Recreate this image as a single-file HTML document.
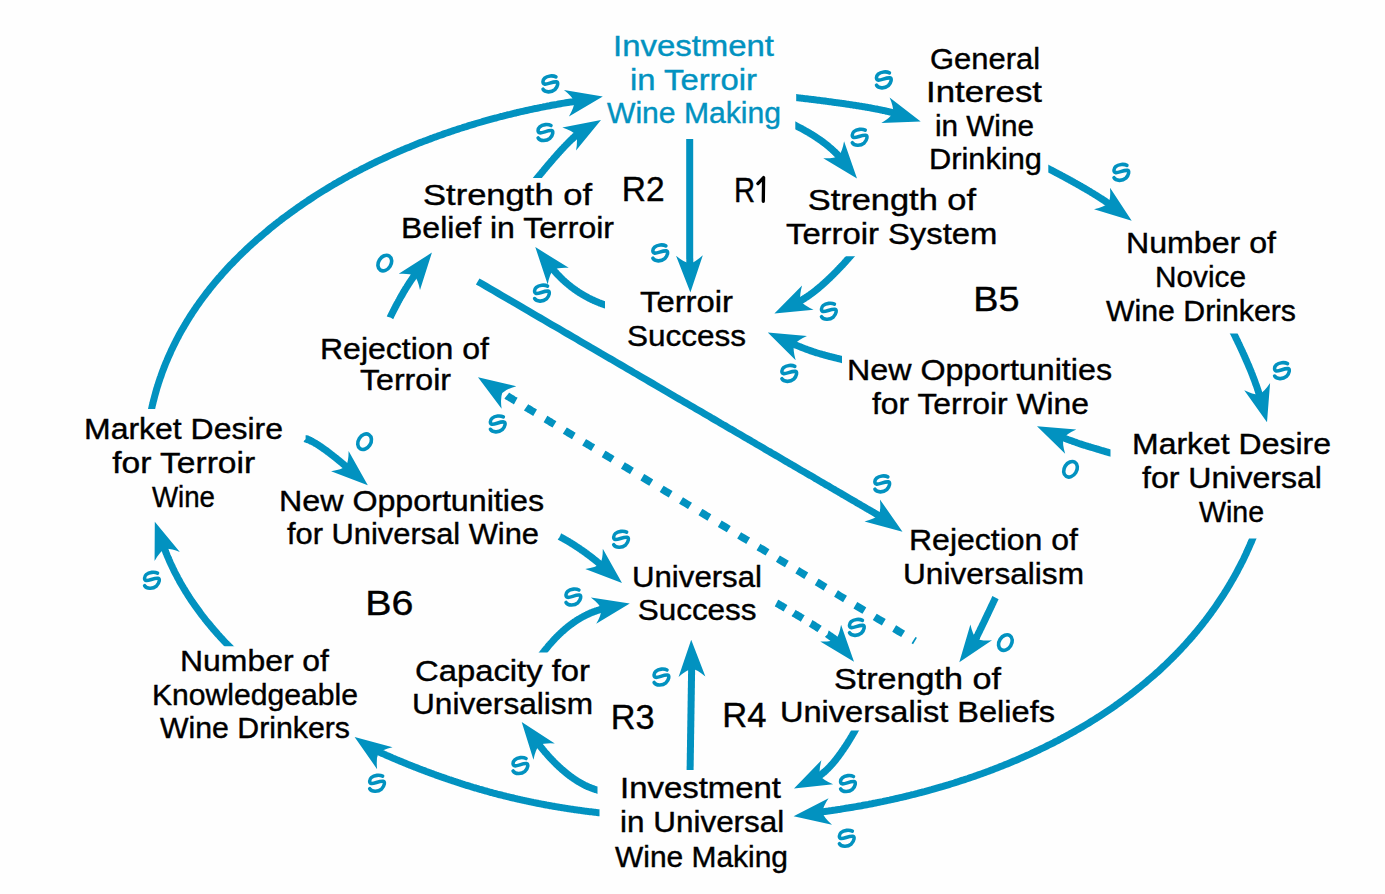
<!DOCTYPE html>
<html><head><meta charset="utf-8"><style>
html,body{margin:0;padding:0;background:#fefefe;width:1385px;height:894px;overflow:hidden}
svg{display:block}
text{font-family:"Liberation Sans",sans-serif;font-size:30px;stroke-width:0.4px}
text.big{font-size:35px}
</style></head><body>
<svg width="1385" height="894" viewBox="0 0 1385 894">
<rect width="1385" height="894" fill="#fefefe"/>
<clipPath id="c1"><rect x="0.0" y="0.0" width="1385.0" height="408.9"/></clipPath><path d="M149.7 417.2 L151.5 409.4 L151.9 407.5 L152.3 405.6 L152.8 403.7 L153.2 401.9 L153.7 400.0 L154.2 398.1 L154.7 396.2 L155.2 394.4 L155.7 392.5 L156.2 390.7 L156.7 388.8 L157.3 387.0 L157.9 385.2 L158.4 383.4 L159.0 381.6 L159.6 379.8 L160.2 378.0 L160.9 376.2 L161.5 374.4 L162.1 372.6 L162.8 370.8 L163.5 369.1 L164.1 367.3 L164.8 365.6 L165.5 363.8 L166.2 362.1 L167.0 360.3 L167.7 358.6 L168.4 356.9 L169.2 355.2 L170.0 353.5 L170.7 351.8 L171.5 350.1 L172.3 348.4 L173.1 346.7 L173.9 345.1 L174.8 343.4 L175.6 341.7 L176.4 340.1 L177.3 338.4 L178.2 336.8 L179.0 335.1 L179.9 333.5 L180.8 331.9 L181.7 330.3 L182.6 328.7 L183.6 327.1 L184.5 325.5 L185.5 323.9 L186.4 322.3 L187.4 320.7 L188.3 319.2 L189.3 317.6 L190.3 316.0 L191.3 314.5 L192.3 312.9 L193.3 311.4 L194.4 309.9 L195.4 308.3 L196.4 306.8 L197.5 305.3 L198.6 303.8 L199.6 302.3 L200.7 300.8 L201.8 299.3 L202.9 297.8 L204.0 296.3 L205.1 294.9 L206.2 293.4 L207.3 291.9 L208.5 290.5 L209.6 289.0 L210.8 287.6 L211.9 286.2 L213.1 284.7 L214.3 283.3 L215.5 281.9 L216.6 280.5 L217.8 279.1 L219.0 277.7 L220.3 276.3 L221.5 274.9 L222.7 273.5 L223.9 272.1 L225.2 270.8 L226.4 269.4 L227.7 268.0 L228.9 266.7 L230.2 265.3 L231.5 264.0 L232.8 262.7 L234.1 261.3 L235.4 260.0 L236.7 258.7 L238.0 257.4 L239.3 256.1 L240.6 254.8 L241.9 253.5 L243.3 252.2 L244.6 250.9 L246.0 249.6 L247.3 248.4 L248.7 247.1 L250.0 245.8 L251.4 244.6 L252.8 243.3 L254.2 242.1 L255.6 240.9 L256.9 239.6 L258.3 238.4 L259.8 237.2 L261.2 236.0 L262.6 234.8 L264.0 233.6 L265.4 232.4 L266.9 231.2 L268.3 230.0 L269.7 228.8 L271.2 227.6 L272.6 226.5 L274.1 225.3 L275.5 224.1 L277.0 223.0 L278.5 221.8 L280.0 220.7 L281.4 219.6 L282.9 218.4 L284.4 217.3 L285.9 216.2 L287.4 215.1 L288.9 214.0 L290.4 212.9 L291.9 211.8 L293.5 210.7 L295.0 209.6 L296.5 208.5 L298.0 207.4 L299.6 206.3 L301.1 205.3 L302.6 204.2 L304.2 203.2 L305.7 202.1 L307.3 201.1 L308.9 200.0 L310.4 199.0 L312.0 198.0 L313.6 196.9 L315.1 195.9 L316.7 194.9 L318.3 193.9 L319.9 192.9 L321.5 191.9 L323.1 190.9 L324.7 189.9 L326.3 189.0 L327.9 188.0 L329.5 187.0 L331.1 186.1 L332.7 185.1 L334.3 184.1 L336.0 183.2 L337.6 182.3 L339.2 181.3 L340.9 180.4 L342.5 179.5 L344.1 178.5 L345.8 177.6 L347.4 176.7 L349.1 175.8 L350.7 174.9 L352.4 174.0 L354.1 173.1 L355.7 172.2 L357.4 171.4 L359.1 170.5 L360.7 169.6 L362.4 168.7 L364.1 167.9 L365.8 167.0 L367.4 166.2 L369.1 165.3 L370.8 164.5 L372.5 163.7 L374.2 162.8 L375.9 162.0 L377.6 161.2 L379.3 160.4 L381.0 159.6 L382.7 158.8 L384.4 158.0 L386.2 157.2 L387.9 156.4 L389.6 155.6 L391.3 154.9 L393.0 154.1 L394.8 153.3 L396.5 152.6 L398.2 151.8 L399.9 151.1 L401.7 150.3 L403.4 149.6 L405.2 148.8 L406.9 148.1 L408.6 147.4 L410.4 146.7 L412.1 145.9 L413.9 145.2 L415.6 144.5 L417.4 143.8 L419.1 143.1 L420.9 142.4 L422.6 141.8 L424.4 141.1 L426.2 140.4 L427.9 139.7 L429.7 139.1 L431.5 138.4 L433.2 137.8 L435.0 137.1 L436.8 136.5 L438.5 135.8 L440.3 135.2 L442.1 134.6 L443.9 133.9 L445.6 133.3 L447.4 132.7 L449.2 132.1 L451.0 131.5 L452.8 130.9 L454.5 130.3 L456.3 129.7 L458.1 129.1 L459.9 128.5 L461.7 128.0 L463.5 127.4 L465.3 126.8 L467.0 126.3 L468.8 125.7 L470.6 125.2 L472.4 124.6 L474.2 124.1 L476.0 123.5 L477.8 123.0 L479.6 122.5 L481.4 122.0 L483.2 121.4 L485.0 120.9 L486.8 120.4 L488.6 119.9 L490.4 119.4 L492.2 118.9 L494.0 118.4 L495.8 118.0 L497.6 117.5 L499.4 117.0 L501.2 116.5 L503.0 116.1 L504.8 115.6 L506.6 115.2 L508.4 114.7 L510.2 114.3 L512.0 113.8 L513.8 113.4 L515.6 113.0 L517.4 112.5 L519.2 112.1 L521.0 111.7 L522.8 111.3 L524.6 110.9 L526.4 110.5 L528.2 110.1 L530.0 109.7 L531.8 109.3 L533.6 108.9 L535.4 108.5 L537.2 108.2 L539.0 107.8 L540.8 107.4 L542.5 107.1 L544.3 106.7 L546.1 106.4 L547.9 106.0 L549.7 105.7 L551.5 105.3 L553.3 105.0 L555.1 104.7 L556.9 104.4 L558.7 104.0 L560.5 103.7 L562.2 103.4 L564.0 103.1 L565.8 102.8 L567.6 102.5 L569.4 102.2 L571.2 101.9 L572.9 101.7 L574.7 101.4 L576.5 101.1 L578.3 100.8" fill="none" stroke="#0292c0" stroke-width="7.0" clip-path="url(#c1)"/><path d="M0 0 L-37.0 -13.4 Q-30.0 -5.4 -29.0 0 Q-30.0 5.4 -37.0 13.4 Z" fill="#0292c0" transform="translate(602.8 96.4) rotate(-10.70)"/>
<clipPath id="c2"><rect x="0.0" y="0.0" width="1385.0" height="178.0"/></clipPath><path d="M532.2 184.2 L537.3 178.0 L537.6 177.6 L537.9 177.2 L538.3 176.8 L538.6 176.4 L538.9 176.1 L539.2 175.7 L539.5 175.3 L539.8 174.9 L540.1 174.5 L540.4 174.2 L540.7 173.8 L541.1 173.4 L541.4 173.1 L541.7 172.7 L542.0 172.3 L542.3 171.9 L542.6 171.6 L542.9 171.2 L543.2 170.9 L543.5 170.5 L543.8 170.1 L544.1 169.8 L544.4 169.4 L544.7 169.1 L545.0 168.7 L545.2 168.4 L545.5 168.0 L545.8 167.7 L546.1 167.3 L546.4 167.0 L546.7 166.7 L547.0 166.3 L547.3 166.0 L547.6 165.6 L547.8 165.3 L548.1 165.0 L548.4 164.6 L548.7 164.3 L549.0 164.0 L549.2 163.7 L549.5 163.3 L549.8 163.0 L550.1 162.7 L550.3 162.4 L550.6 162.0 L550.9 161.7 L551.2 161.4 L551.4 161.1 L551.7 160.8 L552.0 160.5 L552.2 160.2 L552.5 159.9 L552.8 159.5 L553.0 159.2 L553.3 158.9 L553.6 158.6 L553.8 158.3 L554.1 158.0 L554.3 157.7 L554.6 157.5 L554.8 157.2 L555.1 156.9 L555.4 156.6 L555.6 156.3 L555.9 156.0 L556.1 155.7 L556.4 155.4 L556.6 155.2 L556.9 154.9 L557.1 154.6 L557.4 154.3 L557.6 154.0 L557.8 153.8 L558.1 153.5 L558.3 153.2 L558.6 153.0 L558.8 152.7 L559.0 152.4 L559.3 152.2 L559.5 151.9 L559.8 151.6 L560.0 151.4 L560.2 151.1 L560.5 150.9 L560.7 150.6 L560.9 150.4 L561.2 150.1 L561.4 149.9 L561.6 149.6 L561.8 149.4 L562.1 149.1 L562.3 148.9 L562.5 148.6 L562.7 148.4 L563.0 148.2 L563.2 147.9 L563.4 147.7 L563.6 147.5 L563.8 147.2 L564.0 147.0 L564.3 146.8 L564.5 146.6 L564.7 146.3 L564.9 146.1 L565.1 145.9 L565.3 145.7 L565.5 145.4 L565.7 145.2 L565.9 145.0 L566.2 144.8 L566.4 144.6 L566.6 144.4 L566.8 144.2 L567.0 144.0 L567.2 143.8 L567.4 143.6 L567.6 143.4 L567.8 143.2 L568.0 143.0 L568.2 142.8 L568.4 142.6 L568.5 142.4 L568.7 142.2 L568.9 142.0 L569.1 141.8 L569.3 141.6 L569.5 141.4 L569.7 141.2 L569.9 141.1 L570.1 140.9 L570.2 140.7 L570.4 140.5 L570.6 140.4 L570.8 140.2 L571.0 140.0 L571.2 139.8 L571.3 139.7 L571.5 139.5 L571.7 139.3 L571.9 139.2 L572.0 139.0 L572.2 138.8 L572.4 138.7 L572.5 138.5 L572.7 138.4 L572.9 138.2 L573.1 138.1 L573.2 137.9 L573.4 137.8 L573.6 137.6 L573.7 137.5 L573.9 137.3 L574.0 137.2 L574.2 137.0 L574.4 136.9 L574.5 136.8 L574.7 136.6 L574.8 136.5 L575.0 136.4 L575.1 136.2 L575.3 136.1 L575.4 136.0 L575.6 135.8 L575.8 135.7 L575.9 135.6 L576.0 135.5 L576.2 135.3 L576.3 135.2 L576.5 135.1 L576.6 135.0 L576.8 134.9 L576.9 134.8 L577.1 134.7 L577.2 134.5 L577.3 134.4 L577.5 134.3 L577.6 134.2 L577.7 134.1 L577.9 134.0 L578.0 133.9 L578.1 133.8 L578.3 133.7 L578.4 133.6 L578.5 133.5 L578.7 133.5 L578.8 133.4 L578.9 133.3 L579.1 133.2 L579.2 133.1 L579.3 133.0 L579.4 132.9 L579.5 132.9 L579.7 132.8 L579.8 132.7 L579.9 132.6 L580.0 132.6 L580.1 132.5 L580.2 132.4 L580.4 132.4" fill="none" stroke="#0292c0" stroke-width="7.0" clip-path="url(#c2)"/><path d="M0 0 L-37.0 -13.4 Q-30.0 -5.4 -29.0 0 Q-30.0 5.4 -37.0 13.4 Z" fill="#0292c0" transform="translate(601.0 120.1) rotate(-30.70)"/>
<clipPath id="c3"><rect x="796.2" y="0.0" width="588.8" height="894.0"/></clipPath><path d="M788.3 96.7 L796.2 97.6 L797.0 97.7 L797.8 97.8 L798.5 97.9 L799.3 98.0 L800.1 98.0 L800.8 98.1 L801.6 98.2 L802.4 98.3 L803.1 98.4 L803.9 98.5 L804.6 98.6 L805.4 98.7 L806.1 98.8 L806.9 98.8 L807.6 98.9 L808.4 99.0 L809.1 99.1 L809.8 99.2 L810.6 99.3 L811.3 99.4 L812.0 99.5 L812.7 99.6 L813.5 99.6 L814.2 99.7 L814.9 99.8 L815.6 99.9 L816.3 100.0 L817.0 100.1 L817.7 100.2 L818.4 100.3 L819.1 100.3 L819.8 100.4 L820.5 100.5 L821.2 100.6 L821.9 100.7 L822.6 100.8 L823.3 100.9 L824.0 101.0 L824.6 101.1 L825.3 101.1 L826.0 101.2 L826.6 101.3 L827.3 101.4 L828.0 101.5 L828.6 101.6 L829.3 101.7 L829.9 101.7 L830.6 101.8 L831.2 101.9 L831.9 102.0 L832.5 102.1 L833.2 102.2 L833.8 102.3 L834.5 102.4 L835.1 102.4 L835.7 102.5 L836.4 102.6 L837.0 102.7 L837.6 102.8 L838.2 102.9 L838.8 103.0 L839.4 103.0 L840.1 103.1 L840.7 103.2 L841.3 103.3 L841.9 103.4 L842.5 103.5 L843.1 103.6 L843.7 103.6 L844.3 103.7 L844.9 103.8 L845.4 103.9 L846.0 104.0 L846.6 104.1 L847.2 104.2 L847.8 104.2 L848.3 104.3 L848.9 104.4 L849.5 104.5 L850.0 104.6 L850.6 104.7 L851.2 104.7 L851.7 104.8 L852.3 104.9 L852.8 105.0 L853.4 105.1 L853.9 105.2 L854.5 105.3 L855.0 105.3 L855.5 105.4 L856.1 105.5 L856.6 105.6 L857.1 105.7 L857.7 105.8 L858.2 105.8 L858.7 105.9 L859.2 106.0 L859.8 106.1 L860.3 106.2 L860.8 106.3 L861.3 106.3 L861.8 106.4 L862.3 106.5 L862.8 106.6 L863.3 106.7 L863.8 106.8 L864.3 106.8 L864.8 106.9 L865.3 107.0 L865.7 107.1 L866.2 107.2 L866.7 107.3 L867.2 107.3 L867.6 107.4 L868.1 107.5 L868.6 107.6 L869.0 107.7 L869.5 107.8 L870.0 107.8 L870.4 107.9 L870.9 108.0 L871.3 108.1 L871.8 108.2 L872.2 108.2 L872.7 108.3 L873.1 108.4 L873.5 108.5 L874.0 108.6 L874.4 108.7 L874.8 108.7 L875.3 108.8 L875.7 108.9 L876.1 109.0 L876.5 109.1 L876.9 109.1 L877.4 109.2 L877.8 109.3 L878.2 109.4 L878.6 109.5 L879.0 109.5 L879.4 109.6 L879.8 109.7 L880.2 109.8 L880.6 109.9 L880.9 110.0 L881.3 110.0 L881.7 110.1 L882.1 110.2 L882.5 110.3 L882.8 110.4 L883.2 110.4 L883.6 110.5 L884.0 110.6 L884.3 110.7 L884.7 110.8 L885.0 110.8 L885.4 110.9 L885.7 111.0 L886.1 111.1 L886.4 111.2 L886.8 111.2 L887.1 111.3 L887.5 111.4 L887.8 111.5 L888.1 111.6 L888.5 111.6 L888.8 111.7 L889.1 111.8 L889.4 111.9 L889.8 112.0 L890.1 112.0 L890.4 112.1 L890.7 112.2 L891.0 112.3 L891.3 112.3 L891.6 112.4 L891.9 112.5 L892.2 112.6 L892.5 112.7 L892.8 112.7 L893.1 112.8 L893.4 112.9 L893.7 113.0 L894.0 113.1 L894.2 113.1 L894.5 113.2 L894.8 113.3 L895.1 113.4 L895.3 113.4 L895.6 113.5 L895.9 113.6 L896.1 113.7 L896.4 113.8 L896.6 113.8 L896.9 113.9 L897.1 114.0 L897.4 114.1 L897.6 114.1 L897.9 114.2" fill="none" stroke="#0292c0" stroke-width="7.0" clip-path="url(#c3)"/><path d="M0 0 L-37.0 -13.4 Q-30.0 -5.4 -29.0 0 Q-30.0 5.4 -37.0 13.4 Z" fill="#0292c0" transform="translate(920.7 121.6) rotate(17.90)"/>
<clipPath id="c4"><rect x="795.3" y="0.0" width="589.7" height="894.0"/></clipPath><path d="M788.1 121.8 L795.3 125.4 L795.6 125.6 L795.9 125.7 L796.2 125.9 L796.5 126.0 L796.9 126.2 L797.2 126.3 L797.5 126.5 L797.8 126.6 L798.1 126.8 L798.4 127.0 L798.7 127.1 L799.0 127.3 L799.3 127.4 L799.6 127.6 L799.9 127.8 L800.2 127.9 L800.5 128.1 L800.8 128.2 L801.1 128.4 L801.4 128.5 L801.7 128.7 L802.0 128.9 L802.3 129.0 L802.6 129.2 L802.9 129.3 L803.2 129.5 L803.5 129.7 L803.8 129.8 L804.1 130.0 L804.3 130.1 L804.6 130.3 L804.9 130.5 L805.2 130.6 L805.5 130.8 L805.8 131.0 L806.1 131.1 L806.4 131.3 L806.6 131.4 L806.9 131.6 L807.2 131.8 L807.5 131.9 L807.8 132.1 L808.0 132.2 L808.3 132.4 L808.6 132.6 L808.9 132.7 L809.2 132.9 L809.4 133.1 L809.7 133.2 L810.0 133.4 L810.3 133.6 L810.5 133.7 L810.8 133.9 L811.1 134.1 L811.3 134.2 L811.6 134.4 L811.9 134.5 L812.1 134.7 L812.4 134.9 L812.7 135.0 L812.9 135.2 L813.2 135.4 L813.5 135.5 L813.7 135.7 L814.0 135.9 L814.3 136.0 L814.5 136.2 L814.8 136.4 L815.0 136.5 L815.3 136.7 L815.6 136.9 L815.8 137.0 L816.1 137.2 L816.3 137.4 L816.6 137.6 L816.8 137.7 L817.1 137.9 L817.3 138.1 L817.6 138.2 L817.8 138.4 L818.1 138.6 L818.3 138.7 L818.6 138.9 L818.8 139.1 L819.1 139.2 L819.3 139.4 L819.6 139.6 L819.8 139.8 L820.0 139.9 L820.3 140.1 L820.5 140.3 L820.8 140.4 L821.0 140.6 L821.2 140.8 L821.5 141.0 L821.7 141.1 L822.0 141.3 L822.2 141.5 L822.4 141.6 L822.7 141.8 L822.9 142.0 L823.1 142.2 L823.4 142.3 L823.6 142.5 L823.8 142.7 L824.0 142.9 L824.3 143.0 L824.5 143.2 L824.7 143.4 L825.0 143.6 L825.2 143.7 L825.4 143.9 L825.6 144.1 L825.9 144.3 L826.1 144.4 L826.3 144.6 L826.5 144.8 L826.7 145.0 L827.0 145.1 L827.2 145.3 L827.4 145.5 L827.6 145.7 L827.8 145.8 L828.0 146.0 L828.3 146.2 L828.5 146.4 L828.7 146.5 L828.9 146.7 L829.1 146.9 L829.3 147.1 L829.5 147.3 L829.7 147.4 L829.9 147.6 L830.1 147.8 L830.3 148.0 L830.6 148.2 L830.8 148.3 L831.0 148.5 L831.2 148.7 L831.4 148.9 L831.6 149.0 L831.8 149.2 L832.0 149.4 L832.2 149.6 L832.4 149.8 L832.6 150.0 L832.8 150.1 L833.0 150.3 L833.1 150.5 L833.3 150.7 L833.5 150.9 L833.7 151.0 L833.9 151.2 L834.1 151.4 L834.3 151.6 L834.5 151.8 L834.7 152.0 L834.9 152.1 L835.0 152.3 L835.2 152.5 L835.4 152.7 L835.6 152.9 L835.8 153.0 L836.0 153.2 L836.2 153.4 L836.3 153.6 L836.5 153.8 L836.7 154.0 L836.9 154.2 L837.1 154.3 L837.2 154.5 L837.4 154.7 L837.6 154.9 L837.8 155.1 L837.9 155.3 L838.1 155.5 L838.3 155.6 L838.4 155.8 L838.6 156.0 L838.8 156.2 L839.0 156.4 L839.1 156.6 L839.3 156.8 L839.5 156.9 L839.6 157.1 L839.8 157.3 L840.0 157.5 L840.1 157.7 L840.3 157.9 L840.4 158.1 L840.6 158.3 L840.8 158.4 L840.9 158.6 L841.1 158.8 L841.2 159.0 L841.4 159.2 L841.6 159.4 L841.7 159.6 L841.9 159.8" fill="none" stroke="#0292c0" stroke-width="7.0" clip-path="url(#c4)"/><path d="M0 0 L-37.0 -13.4 Q-30.0 -5.4 -29.0 0 Q-30.0 5.4 -37.0 13.4 Z" fill="#0292c0" transform="translate(857.0 178.4) rotate(50.90)"/>
<clipPath id="c5"><rect x="0.0" y="139.1" width="1385.0" height="754.9"/></clipPath><path d="M689.7 131.1 L689.7 139.1 L689.7 140.4 L689.7 141.7 L689.7 142.9 L689.7 144.2 L689.7 145.4 L689.7 146.7 L689.7 147.9 L689.7 149.2 L689.7 150.4 L689.7 151.6 L689.7 152.8 L689.7 154.0 L689.7 155.3 L689.7 156.4 L689.7 157.6 L689.7 158.8 L689.7 160.0 L689.7 161.2 L689.7 162.3 L689.7 163.5 L689.7 164.7 L689.7 165.8 L689.7 166.9 L689.7 168.1 L689.7 169.2 L689.7 170.3 L689.7 171.4 L689.7 172.6 L689.7 173.7 L689.7 174.8 L689.7 175.8 L689.7 176.9 L689.7 178.0 L689.7 179.1 L689.7 180.1 L689.7 181.2 L689.7 182.2 L689.7 183.3 L689.7 184.3 L689.7 185.4 L689.7 186.4 L689.7 187.4 L689.7 188.4 L689.7 189.4 L689.7 190.4 L689.7 191.4 L689.7 192.4 L689.7 193.4 L689.7 194.4 L689.7 195.3 L689.7 196.3 L689.7 197.3 L689.7 198.2 L689.7 199.1 L689.7 200.1 L689.7 201.0 L689.7 201.9 L689.7 202.9 L689.7 203.8 L689.7 204.7 L689.7 205.6 L689.7 206.5 L689.7 207.3 L689.7 208.2 L689.7 209.1 L689.7 210.0 L689.7 210.8 L689.7 211.7 L689.7 212.5 L689.7 213.4 L689.7 214.2 L689.7 215.0 L689.7 215.9 L689.7 216.7 L689.7 217.5 L689.7 218.3 L689.7 219.1 L689.7 219.9 L689.7 220.7 L689.7 221.4 L689.7 222.2 L689.7 223.0 L689.7 223.7 L689.7 224.5 L689.7 225.2 L689.7 226.0 L689.7 226.7 L689.7 227.4 L689.7 228.1 L689.7 228.9 L689.7 229.6 L689.7 230.3 L689.7 231.0 L689.7 231.7 L689.7 232.3 L689.7 233.0 L689.7 233.7 L689.7 234.3 L689.7 235.0 L689.7 235.6 L689.7 236.3 L689.7 236.9 L689.7 237.6 L689.7 238.2 L689.7 238.8 L689.7 239.4 L689.7 240.0 L689.7 240.6 L689.7 241.2 L689.7 241.8 L689.7 242.4 L689.7 243.0 L689.7 243.5 L689.7 244.1 L689.7 244.6 L689.7 245.2 L689.7 245.7 L689.7 246.3 L689.7 246.8 L689.7 247.3 L689.7 247.8 L689.7 248.3 L689.7 248.8 L689.7 249.3 L689.7 249.8 L689.7 250.3 L689.7 250.8 L689.7 251.3 L689.7 251.7 L689.7 252.2 L689.7 252.6 L689.7 253.1 L689.7 253.5 L689.7 254.0 L689.7 254.4 L689.7 254.8 L689.7 255.2 L689.7 255.6 L689.7 256.0 L689.7 256.4 L689.7 256.8 L689.7 257.2 L689.7 257.6 L689.7 258.0 L689.7 258.3 L689.7 258.7 L689.8 259.0 L689.8 259.4 L689.8 259.7 L689.8 260.0 L689.8 260.4 L689.8 260.7 L689.8 261.0 L689.8 261.3 L689.8 261.6 L689.8 261.9 L689.8 262.2 L689.8 262.5 L689.8 262.7 L689.8 263.0 L689.8 263.3 L689.8 263.5 L689.8 263.8 L689.8 264.0 L689.8 264.3 L689.8 264.5 L689.8 264.7 L689.8 264.9 L689.8 265.1 L689.8 265.3 L689.8 265.5 L689.8 265.7 L689.8 265.9 L689.8 266.1 L689.8 266.3 L689.8 266.4 L689.8 266.6 L689.8 266.8 L689.8 266.9 L689.8 267.0 L689.8 267.2 L689.8 267.3 L689.8 267.4 L689.8 267.5 L689.8 267.6 L689.8 267.8 L689.8 267.8 L689.8 267.9 L689.8 268.0 L689.8 268.1 L689.8 268.2 L689.8 268.2 L689.8 268.3 L689.8 268.3 L689.8 268.4 L689.8 268.4 L689.8 268.5 L689.8 268.5 L689.8 268.5" fill="none" stroke="#0292c0" stroke-width="7.0" clip-path="url(#c5)"/><path d="M0 0 L-37.0 -13.4 Q-30.0 -5.4 -29.0 0 Q-30.0 5.4 -37.0 13.4 Z" fill="#0292c0" transform="translate(690.4 292.5) rotate(88.50)"/>
<clipPath id="c6"><rect x="1048.3" y="0.0" width="336.7" height="894.0"/></clipPath><path d="M1041.2 164.9 L1048.3 168.6 L1048.7 168.8 L1049.2 169.1 L1049.6 169.3 L1050.1 169.5 L1050.5 169.8 L1051.0 170.0 L1051.4 170.2 L1051.8 170.4 L1052.3 170.7 L1052.7 170.9 L1053.1 171.1 L1053.6 171.4 L1054.0 171.6 L1054.4 171.8 L1054.9 172.0 L1055.3 172.3 L1055.7 172.5 L1056.1 172.7 L1056.6 172.9 L1057.0 173.2 L1057.4 173.4 L1057.8 173.6 L1058.2 173.8 L1058.7 174.0 L1059.1 174.3 L1059.5 174.5 L1059.9 174.7 L1060.3 174.9 L1060.7 175.1 L1061.1 175.4 L1061.6 175.6 L1062.0 175.8 L1062.4 176.0 L1062.8 176.2 L1063.2 176.5 L1063.6 176.7 L1064.0 176.9 L1064.4 177.1 L1064.8 177.3 L1065.2 177.5 L1065.6 177.8 L1066.0 178.0 L1066.4 178.2 L1066.8 178.4 L1067.1 178.6 L1067.5 178.8 L1067.9 179.0 L1068.3 179.2 L1068.7 179.5 L1069.1 179.7 L1069.5 179.9 L1069.8 180.1 L1070.2 180.3 L1070.6 180.5 L1071.0 180.7 L1071.4 180.9 L1071.7 181.1 L1072.1 181.3 L1072.5 181.5 L1072.9 181.8 L1073.2 182.0 L1073.6 182.2 L1074.0 182.4 L1074.3 182.6 L1074.7 182.8 L1075.1 183.0 L1075.4 183.2 L1075.8 183.4 L1076.2 183.6 L1076.5 183.8 L1076.9 184.0 L1077.2 184.2 L1077.6 184.4 L1077.9 184.6 L1078.3 184.8 L1078.7 185.0 L1079.0 185.2 L1079.4 185.4 L1079.7 185.6 L1080.0 185.8 L1080.4 186.0 L1080.7 186.2 L1081.1 186.4 L1081.4 186.6 L1081.8 186.8 L1082.1 187.0 L1082.4 187.2 L1082.8 187.4 L1083.1 187.6 L1083.5 187.8 L1083.8 188.0 L1084.1 188.1 L1084.5 188.3 L1084.8 188.5 L1085.1 188.7 L1085.4 188.9 L1085.8 189.1 L1086.1 189.3 L1086.4 189.5 L1086.7 189.7 L1087.1 189.9 L1087.4 190.1 L1087.7 190.2 L1088.0 190.4 L1088.3 190.6 L1088.6 190.8 L1089.0 191.0 L1089.3 191.2 L1089.6 191.4 L1089.9 191.5 L1090.2 191.7 L1090.5 191.9 L1090.8 192.1 L1091.1 192.3 L1091.4 192.5 L1091.7 192.7 L1092.0 192.8 L1092.3 193.0 L1092.6 193.2 L1092.9 193.4 L1093.2 193.6 L1093.5 193.7 L1093.8 193.9 L1094.1 194.1 L1094.4 194.3 L1094.7 194.5 L1095.0 194.6 L1095.3 194.8 L1095.5 195.0 L1095.8 195.2 L1096.1 195.3 L1096.4 195.5 L1096.7 195.7 L1097.0 195.9 L1097.2 196.0 L1097.5 196.2 L1097.8 196.4 L1098.1 196.6 L1098.3 196.7 L1098.6 196.9 L1098.9 197.1 L1099.1 197.3 L1099.4 197.4 L1099.7 197.6 L1099.9 197.8 L1100.2 197.9 L1100.5 198.1 L1100.7 198.3 L1101.0 198.5 L1101.3 198.6 L1101.5 198.8 L1101.8 199.0 L1102.0 199.1 L1102.3 199.3 L1102.5 199.5 L1102.8 199.6 L1103.0 199.8 L1103.3 200.0 L1103.5 200.1 L1103.8 200.3 L1104.0 200.4 L1104.3 200.6 L1104.5 200.8 L1104.8 200.9 L1105.0 201.1 L1105.2 201.3 L1105.5 201.4 L1105.7 201.6 L1106.0 201.7 L1106.2 201.9 L1106.4 202.1 L1106.7 202.2 L1106.9 202.4 L1107.1 202.5 L1107.3 202.7 L1107.6 202.9 L1107.8 203.0 L1108.0 203.2 L1108.2 203.3 L1108.5 203.5 L1108.7 203.6 L1108.9 203.8 L1109.1 203.9 L1109.3 204.1 L1109.6 204.3 L1109.8 204.4 L1110.0 204.6 L1110.2 204.7 L1110.4 204.9 L1110.6 205.0 L1110.8 205.2 L1111.0 205.3 L1111.2 205.5 L1111.5 205.6 L1111.7 205.8 L1111.9 205.9 L1112.1 206.1 L1112.3 206.2 L1112.5 206.4" fill="none" stroke="#0292c0" stroke-width="7.0" clip-path="url(#c6)"/><path d="M0 0 L-37.0 -13.4 Q-30.0 -5.4 -29.0 0 Q-30.0 5.4 -37.0 13.4 Z" fill="#0292c0" transform="translate(1131.7 220.7) rotate(36.70)"/>
<clipPath id="c7"><rect x="0.0" y="256.2" width="1385.0" height="637.8"/></clipPath><path d="M855.7 250.2 L850.4 256.2 L850.1 256.6 L849.8 256.9 L849.4 257.3 L849.1 257.6 L848.8 258.0 L848.5 258.4 L848.2 258.7 L847.9 259.1 L847.5 259.4 L847.2 259.8 L846.9 260.1 L846.6 260.5 L846.3 260.8 L846.0 261.2 L845.7 261.5 L845.4 261.9 L845.0 262.2 L844.7 262.5 L844.4 262.9 L844.1 263.2 L843.8 263.6 L843.5 263.9 L843.2 264.2 L842.9 264.6 L842.6 264.9 L842.3 265.2 L842.0 265.6 L841.6 265.9 L841.3 266.2 L841.0 266.5 L840.7 266.9 L840.4 267.2 L840.1 267.5 L839.8 267.8 L839.5 268.1 L839.2 268.5 L838.9 268.8 L838.6 269.1 L838.3 269.4 L838.0 269.7 L837.7 270.0 L837.4 270.3 L837.1 270.7 L836.8 271.0 L836.5 271.3 L836.2 271.6 L835.9 271.9 L835.6 272.2 L835.3 272.5 L835.0 272.8 L834.7 273.1 L834.4 273.4 L834.1 273.7 L833.8 274.0 L833.5 274.3 L833.3 274.6 L833.0 274.8 L832.7 275.1 L832.4 275.4 L832.1 275.7 L831.8 276.0 L831.5 276.3 L831.2 276.6 L830.9 276.8 L830.6 277.1 L830.3 277.4 L830.1 277.7 L829.8 278.0 L829.5 278.2 L829.2 278.5 L828.9 278.8 L828.6 279.1 L828.3 279.3 L828.1 279.6 L827.8 279.9 L827.5 280.1 L827.2 280.4 L826.9 280.7 L826.6 280.9 L826.4 281.2 L826.1 281.4 L825.8 281.7 L825.5 282.0 L825.2 282.2 L824.9 282.5 L824.7 282.7 L824.4 283.0 L824.1 283.2 L823.8 283.5 L823.6 283.7 L823.3 284.0 L823.0 284.2 L822.7 284.5 L822.4 284.7 L822.2 284.9 L821.9 285.2 L821.6 285.4 L821.4 285.7 L821.1 285.9 L820.8 286.1 L820.5 286.4 L820.3 286.6 L820.0 286.8 L819.7 287.1 L819.4 287.3 L819.2 287.5 L818.9 287.8 L818.6 288.0 L818.4 288.2 L818.1 288.4 L817.8 288.6 L817.6 288.9 L817.3 289.1 L817.0 289.3 L816.8 289.5 L816.5 289.7 L816.2 290.0 L816.0 290.2 L815.7 290.4 L815.4 290.6 L815.2 290.8 L814.9 291.0 L814.7 291.2 L814.4 291.4 L814.1 291.6 L813.9 291.8 L813.6 292.0 L813.4 292.2 L813.1 292.4 L812.8 292.6 L812.6 292.8 L812.3 293.0 L812.1 293.2 L811.8 293.4 L811.5 293.6 L811.3 293.8 L811.0 294.0 L810.8 294.1 L810.5 294.3 L810.3 294.5 L810.0 294.7 L809.8 294.9 L809.5 295.1 L809.3 295.2 L809.0 295.4 L808.8 295.6 L808.5 295.8 L808.2 295.9 L808.0 296.1 L807.7 296.3 L807.5 296.5 L807.3 296.6 L807.0 296.8 L806.8 297.0 L806.5 297.1 L806.3 297.3 L806.0 297.4 L805.8 297.6 L805.5 297.8 L805.3 297.9 L805.0 298.1 L804.8 298.2 L804.5 298.4 L804.3 298.5 L804.1 298.7 L803.8 298.9 L803.6 299.0 L803.3 299.1 L803.1 299.3 L802.9 299.4 L802.6 299.6 L802.4 299.7 L802.1 299.9 L801.9 300.0 L801.7 300.2 L801.4 300.3 L801.2 300.4 L800.9 300.6 L800.7 300.7 L800.5 300.8 L800.2 301.0 L800.0 301.1 L799.8 301.2 L799.5 301.3 L799.3 301.5 L799.1 301.6 L798.8 301.7 L798.6 301.8 L798.4 302.0 L798.1 302.1 L797.9 302.2 L797.7 302.3 L797.4 302.4 L797.2 302.6 L797.0 302.7 L796.8 302.8 L796.5 302.9 L796.3 303.0 L796.1 303.1" fill="none" stroke="#0292c0" stroke-width="7.0" clip-path="url(#c7)"/><path d="M0 0 L-37.0 -13.4 Q-30.0 -5.4 -29.0 0 Q-30.0 5.4 -37.0 13.4 Z" fill="#0292c0" transform="translate(774.4 313.4) rotate(154.60)"/>
<clipPath id="c8"><rect x="0.0" y="0.0" width="605.0" height="894.0"/></clipPath><path d="M611.8 307.2 L604.2 304.6 L603.9 304.5 L603.6 304.4 L603.2 304.3 L602.9 304.1 L602.6 304.0 L602.3 303.9 L601.9 303.8 L601.6 303.7 L601.3 303.6 L601.0 303.4 L600.7 303.3 L600.3 303.2 L600.0 303.1 L599.7 303.0 L599.4 302.8 L599.1 302.7 L598.8 302.6 L598.4 302.4 L598.1 302.3 L597.8 302.2 L597.5 302.1 L597.2 301.9 L596.9 301.8 L596.6 301.7 L596.3 301.5 L595.9 301.4 L595.6 301.3 L595.3 301.1 L595.0 301.0 L594.7 300.9 L594.4 300.7 L594.1 300.6 L593.8 300.5 L593.5 300.3 L593.2 300.2 L592.9 300.0 L592.6 299.9 L592.3 299.7 L591.9 299.6 L591.6 299.5 L591.3 299.3 L591.0 299.2 L590.7 299.0 L590.4 298.9 L590.1 298.7 L589.8 298.6 L589.5 298.4 L589.2 298.3 L588.9 298.1 L588.6 298.0 L588.3 297.8 L588.0 297.7 L587.7 297.5 L587.5 297.3 L587.2 297.2 L586.9 297.0 L586.6 296.9 L586.3 296.7 L586.0 296.6 L585.7 296.4 L585.4 296.2 L585.1 296.1 L584.8 295.9 L584.5 295.7 L584.2 295.6 L583.9 295.4 L583.7 295.2 L583.4 295.1 L583.1 294.9 L582.8 294.7 L582.5 294.6 L582.2 294.4 L581.9 294.2 L581.6 294.0 L581.4 293.9 L581.1 293.7 L580.8 293.5 L580.5 293.3 L580.2 293.2 L579.9 293.0 L579.7 292.8 L579.4 292.6 L579.1 292.5 L578.8 292.3 L578.5 292.1 L578.3 291.9 L578.0 291.7 L577.7 291.5 L577.4 291.4 L577.1 291.2 L576.9 291.0 L576.6 290.8 L576.3 290.6 L576.0 290.4 L575.8 290.2 L575.5 290.0 L575.2 289.8 L575.0 289.6 L574.7 289.5 L574.4 289.3 L574.1 289.1 L573.9 288.9 L573.6 288.7 L573.3 288.5 L573.1 288.3 L572.8 288.1 L572.5 287.9 L572.3 287.7 L572.0 287.5 L571.7 287.3 L571.5 287.1 L571.2 286.9 L570.9 286.7 L570.7 286.5 L570.4 286.2 L570.1 286.0 L569.9 285.8 L569.6 285.6 L569.4 285.4 L569.1 285.2 L568.8 285.0 L568.6 284.8 L568.3 284.6 L568.1 284.4 L567.8 284.1 L567.5 283.9 L567.3 283.7 L567.0 283.5 L566.8 283.3 L566.5 283.0 L566.3 282.8 L566.0 282.6 L565.8 282.4 L565.5 282.2 L565.2 281.9 L565.0 281.7 L564.7 281.5 L564.5 281.3 L564.2 281.0 L564.0 280.8 L563.7 280.6 L563.5 280.4 L563.2 280.1 L563.0 279.9 L562.7 279.7 L562.5 279.4 L562.3 279.2 L562.0 279.0 L561.8 278.7 L561.5 278.5 L561.3 278.3 L561.0 278.0 L560.8 277.8 L560.5 277.5 L560.3 277.3 L560.1 277.1 L559.8 276.8 L559.6 276.6 L559.3 276.3 L559.1 276.1 L558.9 275.8 L558.6 275.6 L558.4 275.4 L558.1 275.1 L557.9 274.9 L557.7 274.6 L557.4 274.4 L557.2 274.1 L557.0 273.9 L556.7 273.6 L556.5 273.4 L556.3 273.1 L556.0 272.8 L555.8 272.6 L555.6 272.3 L555.3 272.1 L555.1 271.8 L554.9 271.6 L554.6 271.3 L554.4 271.0 L554.2 270.8 L554.0 270.5 L553.7 270.3 L553.5 270.0 L553.3 269.7 L553.1 269.5 L552.8 269.2 L552.6 268.9 L552.4 268.7 L552.2 268.4 L551.9 268.1 L551.7 267.9 L551.5 267.6 L551.3 267.3 L551.1 267.0 L550.8 266.8 L550.6 266.5 L550.4 266.2 L550.2 265.9" fill="none" stroke="#0292c0" stroke-width="7.0" clip-path="url(#c8)"/><path d="M0 0 L-37.0 -13.4 Q-30.0 -5.4 -29.0 0 Q-30.0 5.4 -37.0 13.4 Z" fill="#0292c0" transform="translate(535.3 247.1) rotate(-128.30)"/>
<path d="M390.1 317.5 L390.2 317.2 L390.4 316.9 L390.5 316.6 L390.7 316.4 L390.8 316.1 L390.9 315.8 L391.1 315.5 L391.2 315.2 L391.3 315.0 L391.5 314.7 L391.6 314.4 L391.8 314.1 L391.9 313.8 L392.0 313.6 L392.2 313.3 L392.3 313.0 L392.5 312.7 L392.6 312.4 L392.7 312.2 L392.9 311.9 L393.0 311.6 L393.1 311.3 L393.3 311.1 L393.4 310.8 L393.6 310.5 L393.7 310.3 L393.8 310.0 L394.0 309.7 L394.1 309.4 L394.3 309.2 L394.4 308.9 L394.5 308.6 L394.7 308.4 L394.8 308.1 L394.9 307.8 L395.1 307.6 L395.2 307.3 L395.4 307.0 L395.5 306.8 L395.6 306.5 L395.8 306.3 L395.9 306.0 L396.0 305.7 L396.2 305.5 L396.3 305.2 L396.5 304.9 L396.6 304.7 L396.7 304.4 L396.9 304.2 L397.0 303.9 L397.2 303.7 L397.3 303.4 L397.4 303.1 L397.6 302.9 L397.7 302.6 L397.8 302.4 L398.0 302.1 L398.1 301.9 L398.3 301.6 L398.4 301.4 L398.5 301.1 L398.7 300.9 L398.8 300.6 L398.9 300.4 L399.1 300.1 L399.2 299.9 L399.4 299.6 L399.5 299.4 L399.6 299.1 L399.8 298.9 L399.9 298.6 L400.0 298.4 L400.2 298.1 L400.3 297.9 L400.4 297.6 L400.6 297.4 L400.7 297.1 L400.9 296.9 L401.0 296.7 L401.1 296.4 L401.3 296.2 L401.4 295.9 L401.5 295.7 L401.7 295.5 L401.8 295.2 L402.0 295.0 L402.1 294.7 L402.2 294.5 L402.4 294.3 L402.5 294.0 L402.6 293.8 L402.8 293.6 L402.9 293.3 L403.1 293.1 L403.2 292.9 L403.3 292.6 L403.5 292.4 L403.6 292.2 L403.7 291.9 L403.9 291.7 L404.0 291.5 L404.1 291.2 L404.3 291.0 L404.4 290.8 L404.6 290.6 L404.7 290.3 L404.8 290.1 L405.0 289.9 L405.1 289.7 L405.2 289.4 L405.4 289.2 L405.5 289.0 L405.6 288.8 L405.8 288.5 L405.9 288.3 L406.1 288.1 L406.2 287.9 L406.3 287.7 L406.5 287.4 L406.6 287.2 L406.7 287.0 L406.9 286.8 L407.0 286.6 L407.1 286.3 L407.3 286.1 L407.4 285.9 L407.6 285.7 L407.7 285.5 L407.8 285.3 L408.0 285.1 L408.1 284.8 L408.2 284.6 L408.4 284.4 L408.5 284.2 L408.6 284.0 L408.8 283.8 L408.9 283.6 L409.0 283.4 L409.2 283.2 L409.3 282.9 L409.5 282.7 L409.6 282.5 L409.7 282.3 L409.9 282.1 L410.0 281.9 L410.1 281.7 L410.3 281.5 L410.4 281.3 L410.5 281.1 L410.7 280.9 L410.8 280.7 L410.9 280.5 L411.1 280.3 L411.2 280.1 L411.4 279.9 L411.5 279.7 L411.6 279.5 L411.8 279.3 L411.9 279.1 L412.0 278.9 L412.2 278.7 L412.3 278.5 L412.4 278.3 L412.6 278.1 L412.7 277.9 L412.8 277.7 L413.0 277.5 L413.1 277.3 L413.2 277.1 L413.4 277.0 L413.5 276.8 L413.7 276.6 L413.8 276.4 L413.9 276.2 L414.1 276.0 L414.2 275.8 L414.3 275.6 L414.5 275.4 L414.6 275.3 L414.7 275.1 L414.9 274.9 L415.0 274.7 L415.1 274.5 L415.3 274.3 L415.4 274.1 L415.5 274.0 L415.7 273.8 L415.8 273.6 L415.9 273.4 L416.1 273.2 L416.2 273.1 L416.3 272.9 L416.5 272.7 L416.6 272.5 L416.8 272.3 L416.9 272.2 L417.0 272.0 L417.2 271.8 L417.3 271.6" fill="none" stroke="#0292c0" stroke-width="7.0"/><path d="M0 0 L-37.0 -13.4 Q-30.0 -5.4 -29.0 0 Q-30.0 5.4 -37.0 13.4 Z" fill="#0292c0" transform="translate(431.9 252.6) rotate(-52.50)"/>
<path d="M477.7 281.4 L481.8 283.8 L485.8 286.1 L489.8 288.5 L493.8 290.8 L497.8 293.1 L501.7 295.4 L505.7 297.7 L509.6 300.0 L513.5 302.3 L517.4 304.5 L521.2 306.8 L525.0 309.0 L528.9 311.3 L532.6 313.5 L536.4 315.7 L540.2 317.9 L543.9 320.0 L547.6 322.2 L551.3 324.4 L555.0 326.5 L558.6 328.6 L562.3 330.7 L565.9 332.9 L569.4 334.9 L573.0 337.0 L576.6 339.1 L580.1 341.2 L583.6 343.2 L587.1 345.2 L590.5 347.3 L594.0 349.3 L597.4 351.3 L600.8 353.3 L604.2 355.2 L607.6 357.2 L610.9 359.1 L614.2 361.1 L617.5 363.0 L620.8 364.9 L624.1 366.8 L627.3 368.7 L630.5 370.6 L633.7 372.5 L636.9 374.3 L640.1 376.2 L643.2 378.0 L646.3 379.8 L649.4 381.6 L652.5 383.4 L655.6 385.2 L658.6 387.0 L661.6 388.7 L664.6 390.5 L667.6 392.2 L670.5 393.9 L673.5 395.7 L676.4 397.4 L679.3 399.1 L682.2 400.7 L685.0 402.4 L687.8 404.0 L690.7 405.7 L693.5 407.3 L696.2 408.9 L699.0 410.5 L701.7 412.1 L704.4 413.7 L707.1 415.3 L709.8 416.8 L712.4 418.4 L715.0 419.9 L717.7 421.4 L720.2 423.0 L722.8 424.5 L725.4 425.9 L727.9 427.4 L730.4 428.9 L732.9 430.3 L735.3 431.8 L737.8 433.2 L740.2 434.6 L742.6 436.0 L745.0 437.4 L747.4 438.8 L749.7 440.1 L752.0 441.5 L754.3 442.8 L756.6 444.2 L758.9 445.5 L761.1 446.8 L763.3 448.1 L765.5 449.4 L767.7 450.7 L769.9 451.9 L772.0 453.2 L774.1 454.4 L776.2 455.6 L778.3 456.8 L780.3 458.0 L782.4 459.2 L784.4 460.4 L786.4 461.6 L788.4 462.7 L790.3 463.9 L792.3 465.0 L794.2 466.1 L796.1 467.2 L797.9 468.3 L799.8 469.4 L801.6 470.5 L803.4 471.5 L805.2 472.6 L807.0 473.6 L808.7 474.6 L810.5 475.6 L812.2 476.6 L813.9 477.6 L815.5 478.6 L817.2 479.5 L818.8 480.5 L820.4 481.4 L822.0 482.4 L823.6 483.3 L825.1 484.2 L826.6 485.1 L828.2 485.9 L829.6 486.8 L831.1 487.7 L832.5 488.5 L834.0 489.3 L835.4 490.2 L836.8 491.0 L838.1 491.8 L839.5 492.5 L840.8 493.3 L842.1 494.1 L843.4 494.8 L844.6 495.6 L845.9 496.3 L847.1 497.0 L848.3 497.7 L849.5 498.4 L850.6 499.1 L851.8 499.7 L852.9 500.4 L854.0 501.0 L855.0 501.6 L856.1 502.3 L857.1 502.9 L858.1 503.5 L859.1 504.0 L860.1 504.6 L861.1 505.2 L862.0 505.7 L862.9 506.2 L863.8 506.8 L864.7 507.3 L865.5 507.8 L866.4 508.3 L867.2 508.7 L868.0 509.2 L868.7 509.6 L869.5 510.1 L870.2 510.5 L870.9 510.9 L871.6 511.3 L872.3 511.7 L872.9 512.1 L873.6 512.5 L874.2 512.8 L874.7 513.1 L875.3 513.5 L875.9 513.8 L876.4 514.1 L876.9 514.4 L877.4 514.7 L877.8 515.0 L878.3 515.2 L878.7 515.5 L879.1 515.7 L879.5 515.9 L879.8 516.1 L880.2 516.3 L880.5 516.5 L880.8 516.7 L881.1 516.9 L881.3 517.0 L881.6 517.1 L881.8 517.3 L882.0 517.4 L882.2 517.5 L882.3 517.6 L882.5 517.7 L882.6 517.7 L882.7 517.8 L882.8 517.8 L882.8 517.9 L882.9 517.9 L882.9 517.9" fill="none" stroke="#0292c0" stroke-width="7.0"/><path d="M0 0 L-37.0 -13.4 Q-30.0 -5.4 -29.0 0 Q-30.0 5.4 -37.0 13.4 Z" fill="#0292c0" transform="translate(902.5 531.7) rotate(35.10)"/>
<clipPath id="c9"><rect x="0.0" y="333.4" width="1385.0" height="560.6"/></clipPath><path d="M1230.2 326.2 L1233.7 333.4 L1233.9 333.8 L1234.1 334.2 L1234.3 334.6 L1234.5 335.0 L1234.7 335.4 L1234.9 335.8 L1235.1 336.2 L1235.3 336.6 L1235.5 337.0 L1235.7 337.4 L1235.9 337.8 L1236.0 338.2 L1236.2 338.6 L1236.4 339.0 L1236.6 339.4 L1236.8 339.8 L1237.0 340.1 L1237.2 340.5 L1237.4 340.9 L1237.6 341.3 L1237.7 341.7 L1237.9 342.1 L1238.1 342.5 L1238.3 342.9 L1238.5 343.2 L1238.7 343.6 L1238.9 344.0 L1239.0 344.4 L1239.2 344.8 L1239.4 345.2 L1239.6 345.5 L1239.8 345.9 L1239.9 346.3 L1240.1 346.7 L1240.3 347.1 L1240.5 347.4 L1240.6 347.8 L1240.8 348.2 L1241.0 348.6 L1241.2 348.9 L1241.3 349.3 L1241.5 349.7 L1241.7 350.0 L1241.9 350.4 L1242.0 350.8 L1242.2 351.2 L1242.4 351.5 L1242.5 351.9 L1242.7 352.3 L1242.9 352.6 L1243.0 353.0 L1243.2 353.4 L1243.4 353.7 L1243.5 354.1 L1243.7 354.5 L1243.9 354.8 L1244.0 355.2 L1244.2 355.5 L1244.3 355.9 L1244.5 356.3 L1244.7 356.6 L1244.8 357.0 L1245.0 357.3 L1245.1 357.7 L1245.3 358.0 L1245.5 358.4 L1245.6 358.8 L1245.8 359.1 L1245.9 359.5 L1246.1 359.8 L1246.2 360.2 L1246.4 360.5 L1246.5 360.9 L1246.7 361.2 L1246.8 361.6 L1247.0 361.9 L1247.1 362.3 L1247.3 362.6 L1247.4 362.9 L1247.6 363.3 L1247.7 363.6 L1247.9 364.0 L1248.0 364.3 L1248.2 364.7 L1248.3 365.0 L1248.5 365.3 L1248.6 365.7 L1248.8 366.0 L1248.9 366.4 L1249.0 366.7 L1249.2 367.0 L1249.3 367.4 L1249.5 367.7 L1249.6 368.0 L1249.7 368.4 L1249.9 368.7 L1250.0 369.0 L1250.2 369.4 L1250.3 369.7 L1250.4 370.0 L1250.6 370.4 L1250.7 370.7 L1250.8 371.0 L1251.0 371.4 L1251.1 371.7 L1251.2 372.0 L1251.4 372.3 L1251.5 372.7 L1251.6 373.0 L1251.7 373.3 L1251.9 373.6 L1252.0 374.0 L1252.1 374.3 L1252.3 374.6 L1252.4 374.9 L1252.5 375.2 L1252.6 375.5 L1252.7 375.9 L1252.9 376.2 L1253.0 376.5 L1253.1 376.8 L1253.2 377.1 L1253.4 377.4 L1253.5 377.8 L1253.6 378.1 L1253.7 378.4 L1253.8 378.7 L1254.0 379.0 L1254.1 379.3 L1254.2 379.6 L1254.3 379.9 L1254.4 380.2 L1254.5 380.5 L1254.6 380.8 L1254.8 381.1 L1254.9 381.5 L1255.0 381.8 L1255.1 382.1 L1255.2 382.4 L1255.3 382.7 L1255.4 383.0 L1255.5 383.3 L1255.6 383.6 L1255.7 383.9 L1255.8 384.2 L1256.0 384.5 L1256.1 384.8 L1256.2 385.0 L1256.3 385.3 L1256.4 385.6 L1256.5 385.9 L1256.6 386.2 L1256.7 386.5 L1256.8 386.8 L1256.9 387.1 L1257.0 387.4 L1257.1 387.7 L1257.2 388.0 L1257.3 388.3 L1257.4 388.5 L1257.5 388.8 L1257.6 389.1 L1257.6 389.4 L1257.7 389.7 L1257.8 390.0 L1257.9 390.2 L1258.0 390.5 L1258.1 390.8 L1258.2 391.1 L1258.3 391.4 L1258.4 391.6 L1258.5 391.9 L1258.6 392.2 L1258.6 392.5 L1258.7 392.8 L1258.8 393.0 L1258.9 393.3 L1259.0 393.6 L1259.1 393.9 L1259.2 394.1 L1259.2 394.4 L1259.3 394.7 L1259.4 394.9 L1259.5 395.2 L1259.6 395.5 L1259.6 395.7 L1259.7 396.0 L1259.8 396.3 L1259.9 396.5 L1260.0 396.8 L1260.0 397.1 L1260.1 397.3 L1260.2 397.6 L1260.3 397.9 L1260.3 398.1 L1260.4 398.4 L1260.5 398.6 L1260.6 398.9 L1260.6 399.2" fill="none" stroke="#0292c0" stroke-width="7.0" clip-path="url(#c9)"/><path d="M0 0 L-37.0 -13.4 Q-30.0 -5.4 -29.0 0 Q-30.0 5.4 -37.0 13.4 Z" fill="#0292c0" transform="translate(1267.0 422.3) rotate(74.60)"/>
<clipPath id="c10"><rect x="0.0" y="0.0" width="842.0" height="894.0"/></clipPath><path d="M849.3 361.4 L841.5 359.4 L840.9 359.2 L840.3 359.1 L839.6 358.9 L839.0 358.8 L838.4 358.6 L837.8 358.5 L837.2 358.3 L836.6 358.2 L835.9 358.0 L835.3 357.9 L834.7 357.7 L834.1 357.6 L833.5 357.4 L832.9 357.2 L832.2 357.1 L831.6 356.9 L831.0 356.8 L830.4 356.6 L829.8 356.5 L829.1 356.3 L828.5 356.1 L827.9 355.9 L827.2 355.8 L826.6 355.6 L826.0 355.4 L825.3 355.3 L824.7 355.1 L824.1 354.9 L823.5 354.7 L822.9 354.6 L822.2 354.4 L821.6 354.2 L821.0 354.1 L820.4 353.9 L819.8 353.7 L819.2 353.5 L818.5 353.3 L817.9 353.2 L817.2 353.0 L816.6 352.8 L815.9 352.6 L815.2 352.3 L814.6 352.1 L813.9 351.9 L813.1 351.7 L812.4 351.4 L811.7 351.2 L810.9 350.9 L810.1 350.6 L809.3 350.3 L808.5 350.0 L807.7 349.7 L806.8 349.4 L806.0 349.1 L805.1 348.8 L804.2 348.4 L803.3 348.1 L802.4 347.7 L801.5 347.4 L800.6 347.0 L799.7 346.6 L798.7 346.3 L797.8 345.9 L796.9 345.5 L795.9 345.2 L795.0 344.8 L794.1 344.4 L793.2 344.1 L792.3 343.7 L791.3 343.3 L790.4 343.0 L789.6 342.6" fill="none" stroke="#0292c0" stroke-width="7.0" clip-path="url(#c10)"/><path d="M0 0 L-37.0 -13.4 Q-30.0 -5.4 -29.0 0 Q-30.0 5.4 -37.0 13.4 Z" fill="#0292c0" transform="translate(767.8 332.5) rotate(-155.00)"/>
<clipPath id="c11"><rect x="0.0" y="0.0" width="1110.5" height="894.0"/></clipPath><path d="M1117.7 455.2 L1110.0 452.9 L1109.4 452.7 L1108.9 452.6 L1108.3 452.4 L1107.8 452.2 L1107.2 452.1 L1106.7 451.9 L1106.2 451.8 L1105.6 451.6 L1105.1 451.4 L1104.5 451.3 L1104.0 451.1 L1103.4 450.9 L1102.9 450.8 L1102.3 450.6 L1101.8 450.5 L1101.2 450.3 L1100.7 450.1 L1100.1 450.0 L1099.5 449.8 L1099.0 449.6 L1098.4 449.4 L1097.8 449.3 L1097.2 449.1 L1096.6 448.9 L1096.0 448.7 L1095.4 448.5 L1094.8 448.4 L1094.2 448.2 L1093.6 448.0 L1093.0 447.8 L1092.4 447.7 L1091.8 447.5 L1091.2 447.3 L1090.5 447.1 L1089.9 446.9 L1089.3 446.7 L1088.7 446.6 L1088.0 446.4 L1087.4 446.2 L1086.7 446.0 L1086.0 445.7 L1085.3 445.5 L1084.6 445.3 L1083.9 445.1 L1083.2 444.9 L1082.4 444.6 L1081.7 444.4 L1080.9 444.1 L1080.1 443.8 L1079.3 443.6 L1078.4 443.3 L1077.6 443.0 L1076.7 442.7 L1075.8 442.3 L1074.9 442.0 L1074.0 441.7 L1073.1 441.4 L1072.2 441.0 L1071.2 440.7 L1070.3 440.4 L1069.3 440.0 L1068.4 439.7 L1067.4 439.3 L1066.4 439.0 L1065.5 438.6 L1064.5 438.3 L1063.6 437.9 L1062.6 437.6 L1061.7 437.2 L1060.7 436.9 L1059.8 436.5 L1058.9 436.2" fill="none" stroke="#0292c0" stroke-width="7.0" clip-path="url(#c11)"/><path d="M0 0 L-37.0 -13.4 Q-30.0 -5.4 -29.0 0 Q-30.0 5.4 -37.0 13.4 Z" fill="#0292c0" transform="translate(1037.0 426.3) rotate(-155.60)"/>
<path d="M305.6 438.7 L305.7 438.7 L305.9 438.8 L306.0 438.8 L306.1 438.9 L306.2 438.9 L306.4 438.9 L306.5 439.0 L306.6 439.0 L306.8 439.1 L306.9 439.1 L307.0 439.2 L307.2 439.2 L307.3 439.3 L307.5 439.3 L307.6 439.4 L307.7 439.4 L307.9 439.5 L308.0 439.5 L308.2 439.6 L308.3 439.7 L308.5 439.7 L308.6 439.8 L308.8 439.8 L308.9 439.9 L309.1 440.0 L309.2 440.0 L309.4 440.1 L309.5 440.2 L309.7 440.3 L309.8 440.3 L310.0 440.4 L310.1 440.5 L310.3 440.5 L310.4 440.6 L310.6 440.7 L310.8 440.8 L310.9 440.9 L311.1 440.9 L311.2 441.0 L311.4 441.1 L311.6 441.2 L311.7 441.3 L311.9 441.4 L312.1 441.4 L312.2 441.5 L312.4 441.6 L312.6 441.7 L312.8 441.8 L312.9 441.9 L313.1 442.0 L313.3 442.1 L313.5 442.2 L313.6 442.3 L313.8 442.4 L314.0 442.5 L314.2 442.6 L314.3 442.7 L314.5 442.8 L314.7 442.9 L314.9 443.0 L315.1 443.1 L315.3 443.2 L315.4 443.4 L315.6 443.5 L315.8 443.6 L316.0 443.7 L316.2 443.8 L316.4 443.9 L316.6 444.0 L316.8 444.2 L317.0 444.3 L317.2 444.4 L317.4 444.5 L317.6 444.7 L317.8 444.8 L318.0 444.9 L318.2 445.0 L318.4 445.2 L318.6 445.3 L318.8 445.4 L319.0 445.6 L319.2 445.7 L319.4 445.8 L319.6 446.0 L319.8 446.1 L320.0 446.2 L320.2 446.4 L320.4 446.5 L320.6 446.7 L320.8 446.8 L321.0 446.9 L321.3 447.1 L321.5 447.2 L321.7 447.4 L321.9 447.5 L322.1 447.7 L322.3 447.8 L322.6 448.0 L322.8 448.1 L323.0 448.3 L323.2 448.5 L323.4 448.6 L323.7 448.8 L323.9 448.9 L324.1 449.1 L324.4 449.3 L324.6 449.4 L324.8 449.6 L325.0 449.7 L325.3 449.9 L325.5 450.1 L325.7 450.3 L326.0 450.4 L326.2 450.6 L326.4 450.8 L326.7 450.9 L326.9 451.1 L327.2 451.3 L327.4 451.5 L327.6 451.7 L327.9 451.8 L328.1 452.0 L328.4 452.2 L328.6 452.4 L328.8 452.6 L329.1 452.8 L329.3 452.9 L329.6 453.1 L329.8 453.3 L330.1 453.5 L330.3 453.7 L330.6 453.9 L330.8 454.1 L331.1 454.3 L331.4 454.5 L331.6 454.7 L331.9 454.9 L332.1 455.1 L332.4 455.3 L332.6 455.5 L332.9 455.7 L333.2 455.9 L333.4 456.1 L333.7 456.3 L334.0 456.5 L334.2 456.7 L334.5 456.9 L334.8 457.2 L335.0 457.4 L335.3 457.6 L335.6 457.8 L335.8 458.0 L336.1 458.2 L336.4 458.5 L336.7 458.7 L336.9 458.9 L337.2 459.1 L337.5 459.3 L337.8 459.6 L338.0 459.8 L338.3 460.0 L338.6 460.3 L338.9 460.5 L339.2 460.7 L339.4 461.0 L339.7 461.2 L340.0 461.4 L340.3 461.7 L340.6 461.9 L340.9 462.1 L341.2 462.4 L341.5 462.6 L341.8 462.9 L342.0 463.1 L342.3 463.3 L342.6 463.6 L342.9 463.8 L343.2 464.1 L343.5 464.3 L343.8 464.6 L344.1 464.8 L344.4 465.1 L344.7 465.4 L345.0 465.6 L345.3 465.9 L345.6 466.1 L345.9 466.4 L346.2 466.6 L346.5 466.9 L346.8 467.2 L347.2 467.4 L347.5 467.7 L347.8 468.0 L348.1 468.2 L348.4 468.5 L348.7 468.8 L349.0 469.0 L349.3 469.3 L349.7 469.6" fill="none" stroke="#0292c0" stroke-width="7.0"/><path d="M0 0 L-37.0 -13.4 Q-30.0 -5.4 -29.0 0 Q-30.0 5.4 -37.0 13.4 Z" fill="#0292c0" transform="translate(367.8 485.3) rotate(40.90)"/>
<path d="M559.7 536.6 L559.9 536.7 L560.2 536.8 L560.4 537.0 L560.6 537.1 L560.8 537.2 L561.1 537.3 L561.3 537.5 L561.5 537.6 L561.7 537.7 L562.0 537.8 L562.2 537.9 L562.4 538.1 L562.6 538.2 L562.9 538.3 L563.1 538.4 L563.3 538.6 L563.5 538.7 L563.8 538.8 L564.0 539.0 L564.2 539.1 L564.4 539.2 L564.7 539.3 L564.9 539.5 L565.1 539.6 L565.3 539.7 L565.6 539.9 L565.8 540.0 L566.0 540.1 L566.2 540.2 L566.5 540.4 L566.7 540.5 L566.9 540.6 L567.1 540.8 L567.4 540.9 L567.6 541.0 L567.8 541.2 L568.0 541.3 L568.3 541.4 L568.5 541.6 L568.7 541.7 L568.9 541.8 L569.2 542.0 L569.4 542.1 L569.6 542.2 L569.8 542.4 L570.0 542.5 L570.3 542.6 L570.5 542.8 L570.7 542.9 L570.9 543.1 L571.2 543.2 L571.4 543.3 L571.6 543.5 L571.8 543.6 L572.1 543.8 L572.3 543.9 L572.5 544.0 L572.7 544.2 L573.0 544.3 L573.2 544.5 L573.4 544.6 L573.6 544.7 L573.9 544.9 L574.1 545.0 L574.3 545.2 L574.5 545.3 L574.7 545.5 L575.0 545.6 L575.2 545.7 L575.4 545.9 L575.6 546.0 L575.9 546.2 L576.1 546.3 L576.3 546.5 L576.5 546.6 L576.8 546.8 L577.0 546.9 L577.2 547.1 L577.4 547.2 L577.6 547.3 L577.9 547.5 L578.1 547.6 L578.3 547.8 L578.5 547.9 L578.8 548.1 L579.0 548.2 L579.2 548.4 L579.4 548.5 L579.6 548.7 L579.9 548.8 L580.1 549.0 L580.3 549.1 L580.5 549.3 L580.8 549.5 L581.0 549.6 L581.2 549.8 L581.4 549.9 L581.6 550.1 L581.9 550.2 L582.1 550.4 L582.3 550.5 L582.5 550.7 L582.8 550.8 L583.0 551.0 L583.2 551.2 L583.4 551.3 L583.6 551.5 L583.9 551.6 L584.1 551.8 L584.3 551.9 L584.5 552.1 L584.7 552.3 L585.0 552.4 L585.2 552.6 L585.4 552.7 L585.6 552.9 L585.9 553.1 L586.1 553.2 L586.3 553.4 L586.5 553.5 L586.7 553.7 L587.0 553.9 L587.2 554.0 L587.4 554.2 L587.6 554.4 L587.8 554.5 L588.1 554.7 L588.3 554.8 L588.5 555.0 L588.7 555.2 L588.9 555.3 L589.2 555.5 L589.4 555.7 L589.6 555.8 L589.8 556.0 L590.0 556.2 L590.3 556.3 L590.5 556.5 L590.7 556.7 L590.9 556.8 L591.2 557.0 L591.4 557.2 L591.6 557.4 L591.8 557.5 L592.0 557.7 L592.3 557.9 L592.5 558.0 L592.7 558.2 L592.9 558.4 L593.1 558.5 L593.4 558.7 L593.6 558.9 L593.8 559.1 L594.0 559.2 L594.2 559.4 L594.5 559.6 L594.7 559.8 L594.9 559.9 L595.1 560.1 L595.3 560.3 L595.5 560.5 L595.8 560.6 L596.0 560.8 L596.2 561.0 L596.4 561.2 L596.6 561.3 L596.9 561.5 L597.1 561.7 L597.3 561.9 L597.5 562.1 L597.7 562.2 L598.0 562.4 L598.2 562.6 L598.4 562.8 L598.6 563.0 L598.8 563.1 L599.1 563.3 L599.3 563.5 L599.5 563.7 L599.7 563.9 L599.9 564.0 L600.1 564.2 L600.4 564.4 L600.6 564.6 L600.8 564.8 L601.0 565.0 L601.2 565.1 L601.5 565.3 L601.7 565.5 L601.9 565.7 L602.1 565.9 L602.3 566.1 L602.6 566.3 L602.8 566.4 L603.0 566.6 L603.2 566.8 L603.4 567.0 L603.6 567.2 L603.9 567.4" fill="none" stroke="#0292c0" stroke-width="7.0"/><path d="M0 0 L-37.0 -13.4 Q-30.0 -5.4 -29.0 0 Q-30.0 5.4 -37.0 13.4 Z" fill="#0292c0" transform="translate(622.0 583.1) rotate(40.90)"/>
<path d="M995.5 597.6 L995.3 598.0 L995.1 598.5 L994.9 598.9 L994.7 599.3 L994.5 599.7 L994.3 600.1 L994.1 600.6 L993.9 601.0 L993.7 601.4 L993.5 601.8 L993.3 602.2 L993.1 602.6 L993.0 603.0 L992.8 603.4 L992.6 603.8 L992.4 604.2 L992.2 604.6 L992.0 605.0 L991.8 605.4 L991.6 605.8 L991.5 606.2 L991.3 606.5 L991.1 606.9 L990.9 607.3 L990.7 607.7 L990.6 608.1 L990.4 608.4 L990.2 608.8 L990.0 609.2 L989.9 609.6 L989.7 609.9 L989.5 610.3 L989.3 610.7 L989.2 611.0 L989.0 611.4 L988.8 611.7 L988.7 612.1 L988.5 612.4 L988.3 612.8 L988.2 613.1 L988.0 613.5 L987.8 613.8 L987.7 614.2 L987.5 614.5 L987.3 614.9 L987.2 615.2 L987.0 615.5 L986.9 615.9 L986.7 616.2 L986.6 616.5 L986.4 616.8 L986.2 617.2 L986.1 617.5 L985.9 617.8 L985.8 618.1 L985.6 618.4 L985.5 618.8 L985.3 619.1 L985.2 619.4 L985.0 619.7 L984.9 620.0 L984.7 620.3 L984.6 620.6 L984.5 620.9 L984.3 621.2 L984.2 621.5 L984.0 621.8 L983.9 622.1 L983.8 622.4 L983.6 622.7 L983.5 622.9 L983.3 623.2 L983.2 623.5 L983.1 623.8 L982.9 624.1 L982.8 624.3 L982.7 624.6 L982.5 624.9 L982.4 625.2 L982.3 625.4 L982.2 625.7 L982.0 626.0 L981.9 626.2 L981.8 626.5 L981.7 626.7 L981.5 627.0 L981.4 627.3 L981.3 627.5 L981.2 627.8 L981.0 628.0 L980.9 628.2 L980.8 628.5 L980.7 628.7 L980.6 629.0 L980.5 629.2 L980.3 629.4 L980.2 629.7 L980.1 629.9 L980.0 630.1 L979.9 630.4 L979.8 630.6 L979.7 630.8 L979.6 631.0 L979.5 631.3 L979.4 631.5 L979.3 631.7 L979.2 631.9 L979.0 632.1 L978.9 632.3 L978.8 632.5 L978.7 632.7 L978.6 632.9 L978.5 633.1 L978.4 633.3 L978.4 633.5 L978.3 633.7 L978.2 633.9 L978.1 634.1 L978.0 634.3 L977.9 634.5 L977.8 634.7 L977.7 634.9 L977.6 635.0 L977.5 635.2 L977.4 635.4 L977.3 635.6 L977.3 635.7 L977.2 635.9 L977.1 636.1 L977.0 636.2 L976.9 636.4 L976.8 636.6 L976.8 636.7 L976.7 636.9 L976.6 637.1 L976.5 637.2 L976.5 637.4 L976.4 637.5 L976.3 637.7 L976.2 637.8 L976.2 637.9 L976.1 638.1 L976.0 638.2 L975.9 638.4 L975.9 638.5 L975.8 638.6 L975.7 638.8 L975.7 638.9 L975.6 639.0 L975.5 639.2 L975.5 639.3 L975.4 639.4 L975.4 639.5 L975.3 639.6 L975.2 639.8 L975.2 639.9 L975.1 640.0 L975.1 640.1 L975.0 640.2 L975.0 640.3 L974.9 640.4 L974.8 640.5 L974.8 640.6 L974.7 640.7 L974.7 640.8 L974.6 640.9 L974.6 641.0 L974.5 641.1 L974.5 641.2 L974.4 641.3 L974.4 641.3 L974.4 641.4 L974.3 641.5 L974.3 641.6 L974.2 641.7 L974.2 641.7 L974.1 641.8 L974.1 641.9 L974.1 641.9 L974.0 642.0 L974.0 642.1 L974.0 642.1 L973.9 642.2 L973.9 642.2 L973.9 642.3 L973.8 642.3 L973.8 642.4 L973.8 642.5 L973.7 642.5 L973.7 642.5 L973.7 642.6 L973.7 642.6 L973.6 642.7 L973.6 642.7 L973.6 642.7 L973.6 642.8 L973.5 642.8 L973.5 642.8 L973.5 642.9" fill="none" stroke="#0292c0" stroke-width="7.0"/><path d="M0 0 L-37.0 -13.4 Q-30.0 -5.4 -29.0 0 Q-30.0 5.4 -37.0 13.4 Z" fill="#0292c0" transform="translate(959.3 662.2) rotate(126.30)"/>
<clipPath id="c12"><rect x="0.0" y="0.0" width="1385.0" height="652.5"/></clipPath><path d="M538.3 658.8 L543.2 652.5 L543.5 652.1 L543.8 651.8 L544.1 651.4 L544.4 651.0 L544.6 650.6 L544.9 650.3 L545.2 649.9 L545.5 649.5 L545.8 649.2 L546.1 648.8 L546.4 648.5 L546.7 648.1 L547.0 647.7 L547.3 647.4 L547.6 647.0 L547.8 646.7 L548.1 646.3 L548.4 646.0 L548.7 645.6 L549.0 645.3 L549.3 644.9 L549.6 644.6 L549.9 644.3 L550.2 643.9 L550.5 643.6 L550.8 643.2 L551.1 642.9 L551.4 642.6 L551.7 642.2 L552.0 641.9 L552.3 641.6 L552.6 641.3 L552.9 640.9 L553.2 640.6 L553.5 640.3 L553.8 640.0 L554.1 639.6 L554.4 639.3 L554.6 639.0 L554.9 638.7 L555.2 638.4 L555.5 638.1 L555.8 637.8 L556.1 637.4 L556.5 637.1 L556.8 636.8 L557.1 636.5 L557.4 636.2 L557.7 635.9 L558.0 635.6 L558.3 635.3 L558.6 635.0 L558.9 634.7 L559.2 634.4 L559.5 634.1 L559.8 633.9 L560.1 633.6 L560.4 633.3 L560.7 633.0 L561.0 632.7 L561.3 632.4 L561.6 632.1 L561.9 631.9 L562.2 631.6 L562.5 631.3 L562.8 631.0 L563.1 630.8 L563.5 630.5 L563.8 630.2 L564.1 629.9 L564.4 629.7 L564.7 629.4 L565.0 629.2 L565.3 628.9 L565.6 628.6 L565.9 628.4 L566.2 628.1 L566.5 627.9 L566.9 627.6 L567.2 627.3 L567.5 627.1 L567.8 626.8 L568.1 626.6 L568.4 626.3 L568.7 626.1 L569.0 625.9 L569.4 625.6 L569.7 625.4 L570.0 625.1 L570.3 624.9 L570.6 624.7 L570.9 624.4 L571.2 624.2 L571.6 624.0 L571.9 623.7 L572.2 623.5 L572.5 623.3 L572.8 623.0 L573.1 622.8 L573.4 622.6 L573.8 622.4 L574.1 622.2 L574.4 621.9 L574.7 621.7 L575.0 621.5 L575.4 621.3 L575.7 621.1 L576.0 620.9 L576.3 620.7 L576.6 620.4 L577.0 620.2 L577.3 620.0 L577.6 619.8 L577.9 619.6 L578.2 619.4 L578.6 619.2 L578.9 619.0 L579.2 618.8 L579.5 618.7 L579.8 618.5 L580.2 618.3 L580.5 618.1 L580.8 617.9 L581.1 617.7 L581.5 617.5 L581.8 617.3 L582.1 617.2 L582.4 617.0 L582.8 616.8 L583.1 616.6 L583.4 616.4 L583.7 616.3 L584.1 616.1 L584.4 615.9 L584.7 615.8 L585.1 615.6 L585.4 615.4 L585.7 615.3 L586.0 615.1 L586.4 614.9 L586.7 614.8 L587.0 614.6 L587.4 614.5 L587.7 614.3 L588.0 614.2 L588.3 614.0 L588.7 613.9 L589.0 613.7 L589.3 613.6 L589.7 613.4 L590.0 613.3 L590.3 613.1 L590.7 613.0 L591.0 612.8 L591.3 612.7 L591.7 612.6 L592.0 612.4 L592.3 612.3 L592.7 612.2 L593.0 612.0 L593.3 611.9 L593.7 611.8 L594.0 611.7 L594.3 611.5 L594.7 611.4 L595.0 611.3 L595.4 611.2 L595.7 611.0 L596.0 610.9 L596.4 610.8 L596.7 610.7 L597.0 610.6 L597.4 610.5 L597.7 610.4 L598.1 610.3 L598.4 610.2 L598.7 610.1 L599.1 609.9 L599.4 609.8 L599.8 609.7 L600.1 609.6 L600.4 609.6 L600.8 609.5 L601.1 609.4 L601.5 609.3 L601.8 609.2 L602.1 609.1 L602.5 609.0 L602.8 608.9 L603.2 608.8 L603.5 608.8 L603.9 608.7 L604.2 608.6 L604.5 608.5 L604.9 608.4 L605.2 608.4 L605.6 608.3 L605.9 608.2 L606.3 608.1" fill="none" stroke="#0292c0" stroke-width="7.0" clip-path="url(#c12)"/><path d="M0 0 L-37.0 -13.4 Q-30.0 -5.4 -29.0 0 Q-30.0 5.4 -37.0 13.4 Z" fill="#0292c0" transform="translate(629.8 603.4) rotate(-11.40)"/>
<clipPath id="c13"><rect x="0.0" y="0.0" width="1385.0" height="770.0"/></clipPath><path d="M690.0 778.0 L690.1 770.0 L690.1 768.9 L690.1 767.9 L690.1 766.8 L690.2 765.8 L690.2 764.7 L690.2 763.7 L690.2 762.7 L690.2 761.7 L690.2 760.6 L690.3 759.6 L690.3 758.6 L690.3 757.6 L690.3 756.6 L690.3 755.6 L690.3 754.6 L690.3 753.7 L690.4 752.7 L690.4 751.7 L690.4 750.8 L690.4 749.8 L690.4 748.8 L690.4 747.9 L690.5 746.9 L690.5 746.0 L690.5 745.1 L690.5 744.1 L690.5 743.2 L690.5 742.3 L690.5 741.4 L690.5 740.5 L690.6 739.6 L690.6 738.7 L690.6 737.8 L690.6 736.9 L690.6 736.0 L690.6 735.2 L690.6 734.3 L690.7 733.4 L690.7 732.6 L690.7 731.7 L690.7 730.9 L690.7 730.0 L690.7 729.2 L690.7 728.4 L690.7 727.5 L690.8 726.7 L690.8 725.9 L690.8 725.1 L690.8 724.3 L690.8 723.5 L690.8 722.7 L690.8 721.9 L690.8 721.1 L690.9 720.3 L690.9 719.6 L690.9 718.8 L690.9 718.0 L690.9 717.3 L690.9 716.5 L690.9 715.8 L690.9 715.0 L690.9 714.3 L691.0 713.6 L691.0 712.8 L691.0 712.1 L691.0 711.4 L691.0 710.7 L691.0 710.0 L691.0 709.3 L691.0 708.6 L691.0 707.9 L691.1 707.2 L691.1 706.5 L691.1 705.9 L691.1 705.2 L691.1 704.5 L691.1 703.9 L691.1 703.2 L691.1 702.6 L691.1 701.9 L691.1 701.3 L691.2 700.7 L691.2 700.1 L691.2 699.4 L691.2 698.8 L691.2 698.2 L691.2 697.6 L691.2 697.0 L691.2 696.4 L691.2 695.8 L691.2 695.3 L691.2 694.7 L691.3 694.1 L691.3 693.5 L691.3 693.0 L691.3 692.4 L691.3 691.9 L691.3 691.3 L691.3 690.8 L691.3 690.3 L691.3 689.7 L691.3 689.2 L691.3 688.7 L691.3 688.2 L691.4 687.7 L691.4 687.2 L691.4 686.7 L691.4 686.2 L691.4 685.7 L691.4 685.2 L691.4 684.7 L691.4 684.3 L691.4 683.8 L691.4 683.3 L691.4 682.9 L691.4 682.4 L691.4 682.0 L691.4 681.5 L691.4 681.1 L691.5 680.7 L691.5 680.3 L691.5 679.8 L691.5 679.4 L691.5 679.0 L691.5 678.6 L691.5 678.2 L691.5 677.8 L691.5 677.5 L691.5 677.1 L691.5 676.7 L691.5 676.3 L691.5 676.0 L691.5 675.6 L691.5 675.3 L691.5 674.9 L691.5 674.6 L691.6 674.2 L691.6 673.9 L691.6 673.6 L691.6 673.2 L691.6 672.9 L691.6 672.6 L691.6 672.3 L691.6 672.0 L691.6 671.7 L691.6 671.4 L691.6 671.1 L691.6 670.9 L691.6 670.6 L691.6 670.3 L691.6 670.1 L691.6 669.8 L691.6 669.6 L691.6 669.3 L691.6 669.1 L691.6 668.8 L691.6 668.6 L691.6 668.4 L691.6 668.2 L691.6 667.9 L691.6 667.7 L691.7 667.5 L691.7 667.3 L691.7 667.1 L691.7 666.9 L691.7 666.8 L691.7 666.6 L691.7 666.4 L691.7 666.2 L691.7 666.1 L691.7 665.9 L691.7 665.8 L691.7 665.6 L691.7 665.5 L691.7 665.3 L691.7 665.2 L691.7 665.1 L691.7 665.0 L691.7 664.9 L691.7 664.8 L691.7 664.6 L691.7 664.5 L691.7 664.5 L691.7 664.4 L691.7 664.3 L691.7 664.2 L691.7 664.1 L691.7 664.1 L691.7 664.0 L691.7 664.0 L691.7 663.9 L691.7 663.9 L691.7 663.8 L691.7 663.8 L691.7 663.8 L691.7 663.7 L691.7 663.7 L691.7 663.7 L691.7 663.7" fill="none" stroke="#0292c0" stroke-width="7.0" clip-path="url(#c13)"/><path d="M0 0 L-37.0 -13.4 Q-30.0 -5.4 -29.0 0 Q-30.0 5.4 -37.0 13.4 Z" fill="#0292c0" transform="translate(691.2 639.7) rotate(-91.20)"/>
<clipPath id="c14"><rect x="0.0" y="0.0" width="1385.0" height="646.3"/></clipPath><path d="M234.7 652.0 L229.1 646.3 L228.6 645.8 L228.2 645.3 L227.7 644.9 L227.2 644.4 L226.8 643.9 L226.3 643.4 L225.8 642.9 L225.4 642.4 L224.9 642.0 L224.4 641.5 L224.0 641.0 L223.5 640.5 L223.1 640.0 L222.6 639.5 L222.2 639.0 L221.7 638.6 L221.3 638.1 L220.8 637.6 L220.4 637.1 L219.9 636.6 L219.5 636.1 L219.1 635.6 L218.6 635.1 L218.2 634.7 L217.7 634.2 L217.3 633.7 L216.9 633.2 L216.4 632.7 L216.0 632.2 L215.6 631.7 L215.1 631.2 L214.7 630.7 L214.3 630.2 L213.9 629.8 L213.4 629.3 L213.0 628.8 L212.6 628.3 L212.2 627.8 L211.8 627.3 L211.3 626.8 L210.9 626.3 L210.5 625.8 L210.1 625.3 L209.7 624.8 L209.3 624.3 L208.9 623.8 L208.5 623.3 L208.0 622.8 L207.6 622.3 L207.2 621.8 L206.8 621.4 L206.4 620.9 L206.0 620.4 L205.6 619.9 L205.2 619.4 L204.9 618.9 L204.5 618.4 L204.1 617.9 L203.7 617.4 L203.3 616.9 L202.9 616.4 L202.5 615.9 L202.1 615.4 L201.7 614.9 L201.4 614.4 L201.0 613.9 L200.6 613.4 L200.2 612.9 L199.9 612.3 L199.5 611.8 L199.1 611.3 L198.7 610.8 L198.4 610.3 L198.0 609.8 L197.6 609.3 L197.3 608.8 L196.9 608.3 L196.5 607.8 L196.2 607.3 L195.8 606.8 L195.4 606.3 L195.1 605.8 L194.7 605.3 L194.4 604.8 L194.0 604.3 L193.7 603.8 L193.3 603.2 L193.0 602.7 L192.6 602.2 L192.3 601.7 L191.9 601.2 L191.6 600.7 L191.2 600.2 L190.9 599.7 L190.6 599.2 L190.2 598.7 L189.9 598.1 L189.5 597.6 L189.2 597.1 L188.9 596.6 L188.5 596.1 L188.2 595.6 L187.9 595.1 L187.6 594.6 L187.2 594.0 L186.9 593.5 L186.6 593.0 L186.3 592.5 L185.9 592.0 L185.6 591.5 L185.3 590.9 L185.0 590.4 L184.7 589.9 L184.4 589.4 L184.1 588.9 L183.7 588.4 L183.4 587.8 L183.1 587.3 L182.8 586.8 L182.5 586.3 L182.2 585.8 L181.9 585.3 L181.6 584.7 L181.3 584.2 L181.0 583.7 L180.7 583.2 L180.4 582.7 L180.1 582.1 L179.8 581.6 L179.5 581.1 L179.3 580.6 L179.0 580.0 L178.7 579.5 L178.4 579.0 L178.1 578.5 L177.8 577.9 L177.5 577.4 L177.3 576.9 L177.0 576.4 L176.7 575.8 L176.4 575.3 L176.2 574.8 L175.9 574.3 L175.6 573.7 L175.3 573.2 L175.1 572.7 L174.8 572.2 L174.5 571.6 L174.3 571.1 L174.0 570.6 L173.8 570.1 L173.5 569.5 L173.2 569.0 L173.0 568.5 L172.7 567.9 L172.5 567.4 L172.2 566.9 L172.0 566.3 L171.7 565.8 L171.5 565.3 L171.2 564.7 L171.0 564.2 L170.7 563.7 L170.5 563.2 L170.2 562.6 L170.0 562.1 L169.8 561.6 L169.5 561.0 L169.3 560.5 L169.1 559.9 L168.8 559.4 L168.6 558.9 L168.4 558.3 L168.1 557.8 L167.9 557.3 L167.7 556.7 L167.5 556.2 L167.2 555.7 L167.0 555.1 L166.8 554.6 L166.6 554.0 L166.3 553.5 L166.1 553.0 L165.9 552.4 L165.7 551.9 L165.5 551.4 L165.3 550.8 L165.1 550.3 L164.9 549.7 L164.7 549.2 L164.4 548.7 L164.2 548.1 L164.0 547.6 L163.8 547.0 L163.6 546.5 L163.4 545.9 L163.2 545.4 L163.0 544.9 L162.9 544.3" fill="none" stroke="#0292c0" stroke-width="7.0" clip-path="url(#c14)"/><path d="M0 0 L-37.0 -13.4 Q-30.0 -5.4 -29.0 0 Q-30.0 5.4 -37.0 13.4 Z" fill="#0292c0" transform="translate(154.8 521.7) rotate(-109.60)"/>
<clipPath id="c15"><rect x="0.0" y="0.0" width="599.5" height="894.0"/></clipPath><path d="M607.0 813.6 L599.0 812.7 L598.2 812.7 L597.4 812.6 L596.7 812.5 L595.9 812.4 L595.1 812.3 L594.3 812.2 L593.5 812.1 L592.8 812.0 L592.0 811.9 L591.2 811.8 L590.4 811.7 L589.6 811.7 L588.9 811.6 L588.1 811.5 L587.3 811.4 L586.5 811.3 L585.7 811.2 L585.0 811.1 L584.2 811.0 L583.4 810.9 L582.6 810.8 L581.8 810.6 L581.1 810.5 L580.3 810.4 L579.5 810.3 L578.7 810.2 L577.9 810.1 L577.2 810.0 L576.4 809.9 L575.6 809.8 L574.8 809.7 L574.1 809.6 L573.3 809.4 L572.5 809.3 L571.7 809.2 L571.0 809.1 L570.2 809.0 L569.4 808.9 L568.6 808.8 L567.9 808.6 L567.1 808.5 L566.3 808.4 L565.5 808.3 L564.8 808.1 L564.0 808.0 L563.2 807.9 L562.4 807.8 L561.7 807.6 L560.9 807.5 L560.1 807.4 L559.3 807.3 L558.6 807.1 L557.8 807.0 L557.0 806.9 L556.2 806.7 L555.5 806.6 L554.7 806.5 L553.9 806.3 L553.1 806.2 L552.4 806.1 L551.6 805.9 L550.8 805.8 L550.1 805.7 L549.3 805.5 L548.5 805.4 L547.7 805.2 L547.0 805.1 L546.2 805.0 L545.4 804.8 L544.7 804.7 L543.9 804.5 L543.1 804.4 L542.4 804.2 L541.6 804.1 L540.8 803.9 L540.0 803.8 L539.3 803.6 L538.5 803.5 L537.7 803.3 L537.0 803.2 L536.2 803.0 L535.4 802.9 L534.7 802.7 L533.9 802.6 L533.1 802.4 L532.4 802.2 L531.6 802.1 L530.8 801.9 L530.1 801.8 L529.3 801.6 L528.5 801.4 L527.8 801.3 L527.0 801.1 L526.2 800.9 L525.5 800.8 L524.7 800.6 L523.9 800.4 L523.2 800.3 L522.4 800.1 L521.7 799.9 L520.9 799.8 L520.1 799.6 L519.4 799.4 L518.6 799.3 L517.8 799.1 L517.1 798.9 L516.3 798.7 L515.6 798.6 L514.8 798.4 L514.0 798.2 L513.3 798.0 L512.5 797.8 L511.7 797.7 L511.0 797.5 L510.2 797.3 L509.5 797.1 L508.7 796.9 L507.9 796.7 L507.2 796.6 L506.4 796.4 L505.7 796.2 L504.9 796.0 L504.1 795.8 L503.4 795.6 L502.6 795.4 L501.9 795.2 L501.1 795.0 L500.4 794.8 L499.6 794.7 L498.8 794.5 L498.1 794.3 L497.3 794.1 L496.6 793.9 L495.8 793.7 L495.1 793.5 L494.3 793.3 L493.5 793.1 L492.8 792.9 L492.0 792.7 L491.3 792.5 L490.5 792.3 L489.8 792.0 L489.0 791.8 L488.3 791.6 L487.5 791.4 L486.8 791.2 L486.0 791.0 L485.2 790.8 L484.5 790.6 L483.7 790.4 L483.0 790.2 L482.2 789.9 L481.5 789.7 L480.7 789.5 L480.0 789.3 L479.2 789.1 L478.5 788.9 L477.7 788.6 L477.0 788.4 L476.2 788.2 L475.5 788.0 L474.7 787.8 L474.0 787.5 L473.2 787.3 L472.5 787.1 L471.7 786.9 L471.0 786.6 L470.2 786.4 L469.5 786.2 L468.7 786.0 L468.0 785.7 L467.3 785.5 L466.5 785.3 L465.8 785.0 L465.0 784.8 L464.3 784.6 L463.5 784.3 L462.8 784.1 L462.0 783.9 L461.3 783.6 L460.5 783.4 L459.8 783.1 L459.1 782.9 L458.3 782.7 L457.6 782.4 L456.8 782.2 L456.1 781.9 L455.3 781.7 L454.6 781.4 L453.8 781.2 L453.1 781.0 L452.4 780.7 L451.6 780.5 L450.9 780.2 L450.1 780.0 L449.4 779.7 L448.7 779.5 L447.9 779.2 L447.2 779.0 L446.4 778.7 L445.7 778.4 L445.0 778.2 L444.2 777.9 L443.5 777.7 L442.7 777.4 L442.0 777.2 L441.3 776.9 L440.5 776.6 L439.8 776.4 L439.1 776.1 L438.3 775.9 L437.6 775.6 L436.8 775.3 L436.1 775.1 L435.4 774.8 L434.6 774.5 L433.9 774.3 L433.2 774.0 L432.4 773.7 L431.7 773.5 L431.0 773.2 L430.2 772.9 L429.5 772.7 L428.8 772.4 L428.0 772.1 L427.3 771.8 L426.6 771.6 L425.8 771.3 L425.1 771.0 L424.4 770.7 L423.6 770.5 L422.9 770.2 L422.2 769.9 L421.4 769.6 L420.7 769.3 L420.0 769.1 L419.2 768.8 L418.5 768.5 L417.8 768.2 L417.1 767.9 L416.3 767.7 L415.6 767.4 L414.9 767.1 L414.1 766.8 L413.4 766.5 L412.7 766.2 L412.0 765.9 L411.2 765.6 L410.5 765.3 L409.8 765.1 L409.1 764.8 L408.3 764.5 L407.6 764.2 L406.9 763.9 L406.1 763.6 L405.4 763.3 L404.7 763.0 L404.0 762.7 L403.3 762.4 L402.5 762.1 L401.8 761.8 L401.1 761.5 L400.4 761.2 L399.6 760.9 L398.9 760.6 L398.2 760.3 L397.5 760.0 L396.7 759.7 L396.0 759.4 L395.3 759.1 L394.6 758.8 L393.9 758.5 L393.1 758.2 L392.4 757.9 L391.7 757.6 L391.0 757.2 L390.3 756.9 L389.5 756.6 L388.8 756.3 L388.1 756.0 L387.4 755.7 L386.7 755.4 L385.9 755.1 L385.2 754.7 L384.5 754.4 L383.8 754.1 L383.1 753.8 L382.4 753.5 L381.6 753.2 L380.9 752.8 L380.2 752.5 L379.5 752.2 L378.8 751.9 L378.1 751.6 L377.4 751.2 L376.6 750.9 L375.9 750.6 L375.2 750.3 L374.5 749.9" fill="none" stroke="#0292c0" stroke-width="7.0" clip-path="url(#c15)"/><path d="M0 0 L-37.0 -13.4 Q-30.0 -5.4 -29.0 0 Q-30.0 5.4 -37.0 13.4 Z" fill="#0292c0" transform="translate(354.6 736.9) rotate(-144.80)"/>
<clipPath id="c16"><rect x="0.0" y="0.0" width="597.5" height="894.0"/></clipPath><path d="M604.5 792.2 L596.8 789.9 L596.5 789.8 L596.2 789.7 L595.9 789.6 L595.6 789.5 L595.3 789.4 L595.0 789.4 L594.7 789.3 L594.4 789.2 L594.1 789.1 L593.8 789.0 L593.5 788.9 L593.2 788.7 L592.9 788.6 L592.6 788.5 L592.3 788.4 L592.0 788.3 L591.7 788.2 L591.4 788.1 L591.1 788.0 L590.8 787.9 L590.5 787.7 L590.2 787.6 L589.9 787.5 L589.6 787.4 L589.3 787.2 L588.9 787.1 L588.6 787.0 L588.3 786.9 L588.0 786.7 L587.7 786.6 L587.4 786.5 L587.1 786.3 L586.8 786.2 L586.5 786.0 L586.2 785.9 L585.9 785.8 L585.6 785.6 L585.3 785.5 L585.0 785.3 L584.7 785.2 L584.4 785.0 L584.1 784.9 L583.8 784.7 L583.5 784.6 L583.2 784.4 L582.9 784.2 L582.6 784.1 L582.3 783.9 L582.0 783.7 L581.7 783.6 L581.4 783.4 L581.1 783.2 L580.8 783.1 L580.5 782.9 L580.2 782.7 L579.9 782.6 L579.6 782.4 L579.3 782.2 L579.0 782.0 L578.7 781.8 L578.4 781.7 L578.0 781.5 L577.7 781.3 L577.4 781.1 L577.1 780.9 L576.8 780.7 L576.5 780.5 L576.2 780.3 L575.9 780.1 L575.6 779.9 L575.3 779.7 L575.0 779.5 L574.7 779.3 L574.4 779.1 L574.1 778.9 L573.8 778.7 L573.5 778.5 L573.2 778.3 L572.9 778.1 L572.6 777.9 L572.3 777.7 L572.0 777.5 L571.7 777.2 L571.4 777.0 L571.1 776.8 L570.8 776.6 L570.5 776.4 L570.2 776.1 L569.8 775.9 L569.5 775.7 L569.2 775.4 L568.9 775.2 L568.6 775.0 L568.3 774.7 L568.0 774.5 L567.7 774.3 L567.4 774.0 L567.1 773.8 L566.8 773.5 L566.5 773.3 L566.2 773.0 L565.9 772.8 L565.6 772.5 L565.3 772.3 L565.0 772.0 L564.7 771.8 L564.4 771.5 L564.1 771.3 L563.8 771.0 L563.5 770.8 L563.2 770.5 L562.8 770.2 L562.5 770.0 L562.2 769.7 L561.9 769.4 L561.6 769.2 L561.3 768.9 L561.0 768.6 L560.7 768.3 L560.4 768.1 L560.1 767.8 L559.8 767.5 L559.5 767.2 L559.2 766.9 L558.9 766.7 L558.6 766.4 L558.3 766.1 L558.0 765.8 L557.7 765.5 L557.4 765.2 L557.1 764.9 L556.8 764.6 L556.4 764.3 L556.1 764.0 L555.8 763.7 L555.5 763.4 L555.2 763.1 L554.9 762.8 L554.6 762.5 L554.3 762.2 L554.0 761.9 L553.7 761.6 L553.4 761.3 L553.1 760.9 L552.8 760.6 L552.5 760.3 L552.2 760.0 L551.9 759.7 L551.6 759.4 L551.3 759.0 L550.9 758.7 L550.6 758.4 L550.3 758.0 L550.0 757.7 L549.7 757.4 L549.4 757.0 L549.1 756.7 L548.8 756.4 L548.5 756.0 L548.2 755.7 L547.9 755.4 L547.6 755.0 L547.3 754.7 L547.0 754.3 L546.7 754.0 L546.4 753.6 L546.1 753.3 L545.7 752.9 L545.4 752.6 L545.1 752.2 L544.8 751.9 L544.5 751.5 L544.2 751.1 L543.9 750.8 L543.6 750.4 L543.3 750.0 L543.0 749.7 L542.7 749.3 L542.4 748.9 L542.1 748.6 L541.8 748.2 L541.5 747.8 L541.2 747.4 L540.8 747.1 L540.5 746.7 L540.2 746.3 L539.9 745.9 L539.6 745.5 L539.3 745.1 L539.0 744.8 L538.7 744.4 L538.4 744.0 L538.1 743.6 L537.8 743.2 L537.5 742.8 L537.2 742.4 L536.9 742.0 L536.6 741.6 L536.2 741.2" fill="none" stroke="#0292c0" stroke-width="7.0" clip-path="url(#c16)"/><path d="M0 0 L-37.0 -13.4 Q-30.0 -5.4 -29.0 0 Q-30.0 5.4 -37.0 13.4 Z" fill="#0292c0" transform="translate(521.7 722.1) rotate(-127.30)"/>
<clipPath id="c17"><rect x="0.0" y="730.6" width="1385.0" height="163.4"/></clipPath><path d="M859.0 723.7 L855.0 730.6 L854.8 731.0 L854.6 731.4 L854.3 731.8 L854.1 732.2 L853.9 732.5 L853.7 732.9 L853.4 733.3 L853.2 733.7 L853.0 734.1 L852.8 734.4 L852.5 734.8 L852.3 735.2 L852.1 735.6 L851.9 735.9 L851.7 736.3 L851.4 736.7 L851.2 737.0 L851.0 737.4 L850.8 737.8 L850.6 738.1 L850.3 738.5 L850.1 738.9 L849.9 739.2 L849.7 739.6 L849.5 739.9 L849.3 740.3 L849.0 740.6 L848.8 741.0 L848.6 741.3 L848.4 741.7 L848.2 742.0 L848.0 742.4 L847.7 742.7 L847.5 743.0 L847.3 743.4 L847.1 743.7 L846.9 744.0 L846.7 744.4 L846.5 744.7 L846.2 745.0 L846.0 745.4 L845.8 745.7 L845.6 746.0 L845.4 746.4 L845.2 746.7 L845.0 747.0 L844.7 747.3 L844.5 747.6 L844.3 748.0 L844.1 748.3 L843.9 748.6 L843.7 748.9 L843.5 749.2 L843.3 749.5 L843.1 749.8 L842.8 750.1 L842.6 750.4 L842.4 750.7 L842.2 751.0 L842.0 751.3 L841.8 751.6 L841.6 751.9 L841.4 752.2 L841.2 752.5 L841.0 752.8 L840.8 753.1 L840.6 753.4 L840.4 753.7 L840.1 754.0 L839.9 754.3 L839.7 754.5 L839.5 754.8 L839.3 755.1 L839.1 755.4 L838.9 755.6 L838.7 755.9 L838.5 756.2 L838.3 756.5 L838.1 756.7 L837.9 757.0 L837.7 757.3 L837.5 757.5 L837.3 757.8 L837.1 758.1 L836.9 758.3 L836.7 758.6 L836.5 758.8 L836.3 759.1 L836.1 759.4 L835.9 759.6 L835.7 759.9 L835.5 760.1 L835.3 760.4 L835.1 760.6 L834.9 760.9 L834.7 761.1 L834.5 761.3 L834.3 761.6 L834.1 761.8 L833.9 762.1 L833.7 762.3 L833.5 762.5 L833.3 762.8 L833.1 763.0 L832.9 763.2 L832.7 763.5 L832.5 763.7 L832.3 763.9 L832.1 764.1 L831.9 764.4 L831.7 764.6 L831.5 764.8 L831.3 765.0 L831.1 765.2 L830.9 765.4 L830.8 765.7 L830.6 765.9 L830.4 766.1 L830.2 766.3 L830.0 766.5 L829.8 766.7 L829.6 766.9 L829.4 767.1 L829.2 767.3 L829.0 767.5 L828.8 767.7 L828.6 767.9 L828.4 768.1 L828.3 768.3 L828.1 768.5 L827.9 768.7 L827.7 768.8 L827.5 769.0 L827.3 769.2 L827.1 769.4 L826.9 769.6 L826.7 769.8 L826.6 769.9 L826.4 770.1 L826.2 770.3 L826.0 770.5 L825.8 770.6 L825.6 770.8 L825.4 771.0 L825.2 771.2 L825.1 771.3 L824.9 771.5 L824.7 771.6 L824.5 771.8 L824.3 772.0 L824.1 772.1 L824.0 772.3 L823.8 772.4 L823.6 772.6 L823.4 772.7 L823.2 772.9 L823.0 773.0 L822.9 773.2 L822.7 773.3 L822.5 773.5 L822.3 773.6 L822.1 773.8 L821.9 773.9 L821.8 774.0 L821.6 774.2 L821.4 774.3 L821.2 774.5 L821.0 774.6 L820.9 774.7 L820.7 774.8 L820.5 775.0 L820.3 775.1 L820.1 775.2 L820.0 775.3 L819.8 775.5 L819.6 775.6 L819.4 775.7 L819.3 775.8 L819.1 775.9 L818.9 776.1 L818.7 776.2 L818.5 776.3 L818.4 776.4 L818.2 776.5 L818.0 776.6 L817.8 776.7 L817.7 776.8 L817.5 776.9 L817.3 777.0 L817.1 777.1 L817.0 777.2 L816.8 777.3 L816.6 777.4 L816.5 777.5 L816.3 777.6 L816.1 777.7 L815.9 777.7 L815.8 777.8 L815.6 777.9" fill="none" stroke="#0292c0" stroke-width="7.0" clip-path="url(#c17)"/><path d="M0 0 L-37.0 -13.4 Q-30.0 -5.4 -29.0 0 Q-30.0 5.4 -37.0 13.4 Z" fill="#0292c0" transform="translate(794.0 788.4) rotate(154.10)"/>
<clipPath id="c18"><rect x="0.0" y="538.6" width="1385.0" height="355.4"/></clipPath><path d="M1255.9 530.9 L1252.8 538.3 L1252.1 540.0 L1251.4 541.8 L1250.6 543.5 L1249.9 545.2 L1249.1 546.9 L1248.4 548.6 L1247.6 550.3 L1246.8 552.0 L1246.1 553.7 L1245.3 555.3 L1244.5 557.0 L1243.7 558.7 L1242.9 560.3 L1242.0 562.0 L1241.2 563.6 L1240.4 565.3 L1239.5 566.9 L1238.7 568.5 L1237.8 570.2 L1237.0 571.8 L1236.1 573.4 L1235.2 575.0 L1234.3 576.6 L1233.4 578.2 L1232.5 579.8 L1231.6 581.3 L1230.7 582.9 L1229.8 584.5 L1228.8 586.0 L1227.9 587.6 L1227.0 589.1 L1226.0 590.7 L1225.0 592.2 L1224.1 593.7 L1223.1 595.3 L1222.1 596.8 L1221.1 598.3 L1220.1 599.8 L1219.1 601.3 L1218.1 602.8 L1217.1 604.3 L1216.1 605.8 L1215.1 607.2 L1214.0 608.7 L1213.0 610.2 L1211.9 611.6 L1210.9 613.1 L1209.8 614.5 L1208.8 616.0 L1207.7 617.4 L1206.6 618.8 L1205.5 620.3 L1204.4 621.7 L1203.3 623.1 L1202.2 624.5 L1201.1 625.9 L1200.0 627.3 L1198.8 628.7 L1197.7 630.1 L1196.6 631.4 L1195.4 632.8 L1194.3 634.2 L1193.1 635.5 L1192.0 636.9 L1190.8 638.2 L1189.6 639.6 L1188.4 640.9 L1187.2 642.2 L1186.1 643.6 L1184.9 644.9 L1183.6 646.2 L1182.4 647.5 L1181.2 648.8 L1180.0 650.1 L1178.8 651.4 L1177.5 652.7 L1176.3 654.0 L1175.0 655.2 L1173.8 656.5 L1172.5 657.8 L1171.3 659.0 L1170.0 660.3 L1168.7 661.5 L1167.5 662.7 L1166.2 664.0 L1164.9 665.2 L1163.6 666.4 L1162.3 667.6 L1161.0 668.9 L1159.7 670.1 L1158.4 671.3 L1157.0 672.5 L1155.7 673.6 L1154.4 674.8 L1153.0 676.0 L1151.7 677.2 L1150.3 678.3 L1149.0 679.5 L1147.6 680.7 L1146.3 681.8 L1144.9 683.0 L1143.5 684.1 L1142.2 685.2 L1140.8 686.4 L1139.4 687.5 L1138.0 688.6 L1136.6 689.7 L1135.2 690.8 L1133.8 691.9 L1132.4 693.0 L1131.0 694.1 L1129.5 695.2 L1128.1 696.3 L1126.7 697.3 L1125.3 698.4 L1123.8 699.5 L1122.4 700.5 L1120.9 701.6 L1119.5 702.6 L1118.0 703.7 L1116.6 704.7 L1115.1 705.8 L1113.6 706.8 L1112.2 707.8 L1110.7 708.8 L1109.2 709.8 L1107.7 710.8 L1106.2 711.8 L1104.7 712.8 L1103.2 713.8 L1101.7 714.8 L1100.2 715.8 L1098.7 716.8 L1097.2 717.7 L1095.7 718.7 L1094.2 719.6 L1092.7 720.6 L1091.1 721.5 L1089.6 722.5 L1088.1 723.4 L1086.5 724.4 L1085.0 725.3 L1083.4 726.2 L1081.9 727.1 L1080.3 728.0 L1078.8 728.9 L1077.2 729.8 L1075.6 730.7 L1074.1 731.6 L1072.5 732.5 L1070.9 733.4 L1069.3 734.3 L1067.8 735.1 L1066.2 736.0 L1064.6 736.9 L1063.0 737.7 L1061.4 738.6 L1059.8 739.4 L1058.2 740.3 L1056.6 741.1 L1055.0 741.9 L1053.4 742.8 L1051.8 743.6 L1050.2 744.4 L1048.5 745.2 L1046.9 746.0 L1045.3 746.8 L1043.7 747.6 L1042.0 748.4 L1040.4 749.2 L1038.8 750.0 L1037.1 750.7 L1035.5 751.5 L1033.9 752.3 L1032.2 753.0 L1030.6 753.8 L1028.9 754.6 L1027.3 755.3 L1025.6 756.0 L1023.9 756.8 L1022.3 757.5 L1020.6 758.2 L1018.9 759.0 L1017.3 759.7 L1015.6 760.4 L1013.9 761.1 L1012.3 761.8 L1010.6 762.5 L1008.9 763.2 L1007.2 763.9 L1005.5 764.6 L1003.8 765.3 L1002.2 765.9 L1000.5 766.6 L998.8 767.3 L997.1 767.9 L995.4 768.6 L993.7 769.2 L992.0 769.9 L990.3 770.5 L988.6 771.2 L986.9 771.8 L985.2 772.4 L983.5 773.1 L981.8 773.7 L980.0 774.3 L978.3 774.9 L976.6 775.5 L974.9 776.1 L973.2 776.7 L971.5 777.3 L969.7 777.9 L968.0 778.5 L966.3 779.0 L964.6 779.6 L962.8 780.2 L961.1 780.7 L959.4 781.3 L957.6 781.9 L955.9 782.4 L954.2 783.0 L952.5 783.5 L950.7 784.0 L949.0 784.6 L947.2 785.1 L945.5 785.6 L943.8 786.1 L942.0 786.7 L940.3 787.2 L938.5 787.7 L936.8 788.2 L935.1 788.7 L933.3 789.2 L931.6 789.7 L929.8 790.1 L928.1 790.6 L926.3 791.1 L924.6 791.6 L922.8 792.0 L921.1 792.5 L919.3 792.9 L917.6 793.4 L915.8 793.8 L914.1 794.3 L912.3 794.7 L910.6 795.2 L908.8 795.6 L907.1 796.0 L905.3 796.5 L903.6 796.9 L901.8 797.3 L900.0 797.7 L898.3 798.1 L896.5 798.5 L894.8 798.9 L893.0 799.3 L891.3 799.7 L889.5 800.1 L887.8 800.4 L886.0 800.8 L884.3 801.2 L882.5 801.6 L880.7 801.9 L879.0 802.3 L877.2 802.6 L875.5 803.0 L873.7 803.3 L872.0 803.7 L870.2 804.0 L868.5 804.4 L866.7 804.7 L865.0 805.0 L863.2 805.3 L861.5 805.7 L859.7 806.0 L858.0 806.3 L856.2 806.6 L854.5 806.9 L852.7 807.2 L851.0 807.5 L849.2 807.8 L847.5 808.1 L845.7 808.3 L844.0 808.6 L842.3 808.9 L840.5 809.2 L838.8 809.4 L837.0 809.7 L835.3 810.0 L833.5 810.2 L831.8 810.5 L830.1 810.7 L828.3 811.0 L826.6 811.2 L824.9 811.4 L823.1 811.7 L821.4 811.9 L819.7 812.1 L817.9 812.3" fill="none" stroke="#0292c0" stroke-width="7.0" clip-path="url(#c18)"/><path d="M0 0 L-37.0 -13.4 Q-30.0 -5.4 -29.0 0 Q-30.0 5.4 -37.0 13.4 Z" fill="#0292c0" transform="translate(793.6 816.3) rotate(172.60)"/>
<path d="M915.0 641.0 L910.9 638.5 L906.8 636.1 L902.7 633.6 L898.6 631.2 L894.6 628.7 L890.6 626.3 L886.6 623.9 L882.6 621.5 L878.6 619.2 L874.7 616.8 L870.8 614.5 L866.9 612.1 L863.0 609.8 L859.2 607.5 L855.3 605.2 L851.5 602.9 L847.7 600.6 L843.9 598.3 L840.2 596.1 L836.5 593.8 L832.8 591.6 L829.1 589.4 L825.4 587.2 L821.7 585.0 L818.1 582.8 L814.5 580.7 L810.9 578.5 L807.4 576.4 L803.8 574.2 L800.3 572.1 L796.8 570.0 L793.3 567.9 L789.8 565.8 L786.4 563.8 L783.0 561.7 L779.6 559.7 L776.2 557.6 L772.8 555.6 L769.5 553.6 L766.2 551.6 L762.9 549.6 L759.6 547.7 L756.3 545.7 L753.1 543.8 L749.9 541.8 L746.7 539.9 L743.5 538.0 L740.3 536.1 L737.2 534.2 L734.1 532.4 L731.0 530.5 L727.9 528.6 L724.9 526.8 L721.8 525.0 L718.8 523.2 L715.8 521.4 L712.9 519.6 L709.9 517.8 L707.0 516.1 L704.1 514.3 L701.2 512.6 L698.3 510.9 L695.5 509.2 L692.6 507.5 L689.8 505.8 L687.0 504.1 L684.3 502.4 L681.5 500.8 L678.8 499.1 L676.1 497.5 L673.4 495.9 L670.8 494.3 L668.1 492.7 L665.5 491.2 L662.9 489.6 L660.3 488.0 L657.8 486.5 L655.2 485.0 L652.7 483.5 L650.2 482.0 L647.7 480.5 L645.3 479.0 L642.8 477.5 L640.4 476.1 L638.0 474.6 L635.7 473.2 L633.3 471.8 L631.0 470.4 L628.7 469.0 L626.4 467.6 L624.1 466.3 L621.8 464.9 L619.6 463.6 L617.4 462.2 L615.2 460.9 L613.0 459.6 L610.9 458.3 L608.8 457.1 L606.7 455.8 L604.6 454.5 L602.5 453.3 L600.5 452.1 L598.4 450.8 L596.4 449.6 L594.4 448.5 L592.5 447.3 L590.5 446.1 L588.6 444.9 L586.7 443.8 L584.8 442.7 L583.0 441.6 L581.1 440.5 L579.3 439.4 L577.5 438.3 L575.7 437.2 L574.0 436.1 L572.2 435.1 L570.5 434.1 L568.8 433.1 L567.2 432.0 L565.5 431.1 L563.9 430.1 L562.2 429.1 L560.7 428.1 L559.1 427.2 L557.5 426.3 L556.0 425.3 L554.5 424.4 L553.0 423.5 L551.5 422.7 L550.1 421.8 L548.6 420.9 L547.2 420.1 L545.9 419.2 L544.5 418.4 L543.1 417.6 L541.8 416.8 L540.5 416.0 L539.2 415.2 L538.0 414.5 L536.7 413.7 L535.5 413.0 L534.3 412.3 L533.1 411.6 L531.9 410.9 L530.8 410.2 L529.7 409.5 L528.6 408.8 L527.5 408.2 L526.4 407.6 L525.4 406.9 L524.4 406.3 L523.4 405.7 L522.4 405.1 L521.5 404.6 L520.5 404.0 L519.6 403.4 L518.7 402.9 L517.8 402.4 L517.0 401.9 L516.2 401.4 L515.3 400.9 L514.6 400.4 L513.8 399.9 L513.0 399.5 L512.3 399.0 L511.6 398.6 L510.9 398.2 L510.2 397.8 L509.6 397.4 L509.0 397.0 L508.4 396.7 L507.8 396.3 L507.2 396.0 L506.7 395.6 L506.1 395.3 L505.6 395.0 L505.2 394.7 L504.7 394.4 L504.2 394.2 L503.8 393.9 L503.4 393.7 L503.0 393.4 L502.7 393.2 L502.3 393.0 L502.0 392.8 L501.7 392.6 L501.5 392.5 L501.2 392.3 L501.0 392.2 L500.7 392.0 L500.5 391.9 L500.4 391.8 L500.2 391.7 L500.1 391.6 L500.0 391.6 L499.9 391.5 L499.8 391.5 L499.8 391.4" fill="none" stroke="#0292c0" stroke-width="7.5" stroke-dasharray="10.5 12.1" stroke-dashoffset="8.75"/><path d="M0 0 L-37.0 -13.4 Q-30.0 -5.4 -29.0 0 Q-30.0 5.4 -37.0 13.4 Z" fill="#0292c0" transform="translate(478.0 377.2) rotate(-146.80)"/>
<path d="M776.5 603.0 L777.1 603.3 L777.6 603.7 L778.2 604.0 L778.7 604.3 L779.3 604.6 L779.8 604.9 L780.4 605.3 L780.9 605.6 L781.5 605.9 L782.0 606.2 L782.6 606.5 L783.1 606.8 L783.6 607.1 L784.2 607.5 L784.7 607.8 L785.2 608.1 L785.7 608.4 L786.3 608.7 L786.8 609.0 L787.3 609.3 L787.8 609.6 L788.3 609.9 L788.8 610.2 L789.3 610.5 L789.8 610.8 L790.3 611.1 L790.8 611.4 L791.3 611.7 L791.8 612.0 L792.3 612.2 L792.8 612.5 L793.3 612.8 L793.8 613.1 L794.2 613.4 L794.7 613.7 L795.2 614.0 L795.7 614.2 L796.1 614.5 L796.6 614.8 L797.1 615.1 L797.5 615.4 L798.0 615.6 L798.4 615.9 L798.9 616.2 L799.3 616.4 L799.8 616.7 L800.2 617.0 L800.7 617.3 L801.1 617.5 L801.6 617.8 L802.0 618.0 L802.4 618.3 L802.9 618.6 L803.3 618.8 L803.7 619.1 L804.2 619.3 L804.6 619.6 L805.0 619.9 L805.4 620.1 L805.8 620.4 L806.2 620.6 L806.6 620.9 L807.1 621.1 L807.5 621.4 L807.9 621.6 L808.3 621.8 L808.7 622.1 L809.1 622.3 L809.4 622.6 L809.8 622.8 L810.2 623.1 L810.6 623.3 L811.0 623.5 L811.4 623.8 L811.7 624.0 L812.1 624.2 L812.5 624.5 L812.9 624.7 L813.2 624.9 L813.6 625.1 L813.9 625.4 L814.3 625.6 L814.7 625.8 L815.0 626.0 L815.4 626.3 L815.7 626.5 L816.1 626.7 L816.4 626.9 L816.7 627.1 L817.1 627.3 L817.4 627.6 L817.8 627.8 L818.1 628.0 L818.4 628.2 L818.7 628.4 L819.1 628.6 L819.4 628.8 L819.7 629.0 L820.0 629.2 L820.3 629.4 L820.6 629.6 L821.0 629.8 L821.3 630.0 L821.6 630.2 L821.9 630.4 L822.2 630.6 L822.5 630.8 L822.7 631.0 L823.0 631.2 L823.3 631.4 L823.6 631.6 L823.9 631.7 L824.2 631.9 L824.5 632.1 L824.7 632.3 L825.0 632.5 L825.3 632.7 L825.5 632.8 L825.8 633.0 L826.1 633.2 L826.3 633.4 L826.6 633.5 L826.8 633.7 L827.1 633.9 L827.3 634.1 L827.6 634.2 L827.8 634.4 L828.1 634.6 L828.3 634.7 L828.6 634.9 L828.8 635.1 L829.0 635.2 L829.3 635.4 L829.5 635.5 L829.7 635.7 L829.9 635.8 L830.2 636.0 L830.4 636.2 L830.6 636.3 L830.8 636.5 L831.0 636.6 L831.2 636.8 L831.4 636.9 L831.6 637.1 L831.8 637.2 L832.0 637.3 L832.2 637.5 L832.4 637.6 L832.6 637.8 L832.8 637.9 L833.0 638.0 L833.1 638.2 L833.3 638.3 L833.5 638.5 L833.7 638.6 L833.9 638.7 L834.0 638.8 L834.2 639.0 L834.4 639.1 L834.5 639.2 L834.7 639.4 L834.8 639.5 L835.0 639.6 L835.1 639.7 L835.3 639.8 L835.4 640.0 L835.6 640.1 L835.7 640.2 L835.9 640.3 L836.0 640.4 L836.1 640.5 L836.3 640.6 L836.4 640.8 L836.5 640.9 L836.6 641.0 L836.8 641.1 L836.9 641.2 L837.0 641.3 L837.1 641.4 L837.2 641.5 L837.3 641.6 L837.4 641.7 L837.5 641.8 L837.6 641.9 L837.7 642.0 L837.8 642.1 L837.9 642.2 L838.0 642.3 L838.1 642.3 L838.2 642.4 L838.3 642.5 L838.4 642.6 L838.4 642.7 L838.5 642.8 L838.6 642.9 L838.7 642.9 L838.7 643.0 L838.8 643.1 L838.9 643.2" fill="none" stroke="#0292c0" stroke-width="7.5" stroke-dasharray="10.5 9.5" stroke-dashoffset="0.00"/><path d="M0 0 L-37.0 -13.4 Q-30.0 -5.4 -29.0 0 Q-30.0 5.4 -37.0 13.4 Z" fill="#0292c0" transform="translate(854.0 661.8) rotate(50.90)"/>
<path d="M15.2 2 C12 0.3 6 0.8 3.1 3.4 C0.8 5.5 0.5 9 3 9.7 C6 10.3 11 7 15.6 7.3 C18 7.8 17.5 12 14 15.5 C10 18.8 3.5 18.5 1.3 15.1" transform="translate(541.80 74.90) scale(0.93 0.95)" fill="none" stroke="#0292c0" stroke-width="3.8" stroke-linecap="round"/>
<path d="M15.2 2 C12 0.3 6 0.8 3.1 3.4 C0.8 5.5 0.5 9 3 9.7 C6 10.3 11 7 15.6 7.3 C18 7.8 17.5 12 14 15.5 C10 18.8 3.5 18.5 1.3 15.1" transform="translate(536.90 123.60) scale(0.93 0.95)" fill="none" stroke="#0292c0" stroke-width="3.8" stroke-linecap="round"/>
<path d="M15.2 2 C12 0.3 6 0.8 3.1 3.4 C0.8 5.5 0.5 9 3 9.7 C6 10.3 11 7 15.6 7.3 C18 7.8 17.5 12 14 15.5 C10 18.8 3.5 18.5 1.3 15.1" transform="translate(875.30 70.90) scale(0.93 0.95)" fill="none" stroke="#0292c0" stroke-width="3.8" stroke-linecap="round"/>
<path d="M15.2 2 C12 0.3 6 0.8 3.1 3.4 C0.8 5.5 0.5 9 3 9.7 C6 10.3 11 7 15.6 7.3 C18 7.8 17.5 12 14 15.5 C10 18.8 3.5 18.5 1.3 15.1" transform="translate(851.10 128.30) scale(0.93 0.95)" fill="none" stroke="#0292c0" stroke-width="3.8" stroke-linecap="round"/>
<path d="M15.2 2 C12 0.3 6 0.8 3.1 3.4 C0.8 5.5 0.5 9 3 9.7 C6 10.3 11 7 15.6 7.3 C18 7.8 17.5 12 14 15.5 C10 18.8 3.5 18.5 1.3 15.1" transform="translate(651.70 243.90) scale(0.93 0.95)" fill="none" stroke="#0292c0" stroke-width="3.8" stroke-linecap="round"/>
<path d="M15.2 2 C12 0.3 6 0.8 3.1 3.4 C0.8 5.5 0.5 9 3 9.7 C6 10.3 11 7 15.6 7.3 C18 7.8 17.5 12 14 15.5 C10 18.8 3.5 18.5 1.3 15.1" transform="translate(1112.80 163.40) scale(0.93 0.95)" fill="none" stroke="#0292c0" stroke-width="3.8" stroke-linecap="round"/>
<path d="M15.2 2 C12 0.3 6 0.8 3.1 3.4 C0.8 5.5 0.5 9 3 9.7 C6 10.3 11 7 15.6 7.3 C18 7.8 17.5 12 14 15.5 C10 18.8 3.5 18.5 1.3 15.1" transform="translate(533.40 284.20) scale(0.93 0.95)" fill="none" stroke="#0292c0" stroke-width="3.8" stroke-linecap="round"/>
<path d="M15.2 2 C12 0.3 6 0.8 3.1 3.4 C0.8 5.5 0.5 9 3 9.7 C6 10.3 11 7 15.6 7.3 C18 7.8 17.5 12 14 15.5 C10 18.8 3.5 18.5 1.3 15.1" transform="translate(820.30 302.30) scale(0.93 0.95)" fill="none" stroke="#0292c0" stroke-width="3.8" stroke-linecap="round"/>
<path d="M15.2 2 C12 0.3 6 0.8 3.1 3.4 C0.8 5.5 0.5 9 3 9.7 C6 10.3 11 7 15.6 7.3 C18 7.8 17.5 12 14 15.5 C10 18.8 3.5 18.5 1.3 15.1" transform="translate(1273.40 361.70) scale(0.93 0.95)" fill="none" stroke="#0292c0" stroke-width="3.8" stroke-linecap="round"/>
<path d="M15.2 2 C12 0.3 6 0.8 3.1 3.4 C0.8 5.5 0.5 9 3 9.7 C6 10.3 11 7 15.6 7.3 C18 7.8 17.5 12 14 15.5 C10 18.8 3.5 18.5 1.3 15.1" transform="translate(780.70 364.40) scale(0.93 0.95)" fill="none" stroke="#0292c0" stroke-width="3.8" stroke-linecap="round"/>
<path d="M15.2 2 C12 0.3 6 0.8 3.1 3.4 C0.8 5.5 0.5 9 3 9.7 C6 10.3 11 7 15.6 7.3 C18 7.8 17.5 12 14 15.5 C10 18.8 3.5 18.5 1.3 15.1" transform="translate(489.20 415.00) scale(0.93 0.95)" fill="none" stroke="#0292c0" stroke-width="3.8" stroke-linecap="round"/>
<path d="M15.2 2 C12 0.3 6 0.8 3.1 3.4 C0.8 5.5 0.5 9 3 9.7 C6 10.3 11 7 15.6 7.3 C18 7.8 17.5 12 14 15.5 C10 18.8 3.5 18.5 1.3 15.1" transform="translate(873.70 474.90) scale(0.93 0.95)" fill="none" stroke="#0292c0" stroke-width="3.8" stroke-linecap="round"/>
<path d="M15.2 2 C12 0.3 6 0.8 3.1 3.4 C0.8 5.5 0.5 9 3 9.7 C6 10.3 11 7 15.6 7.3 C18 7.8 17.5 12 14 15.5 C10 18.8 3.5 18.5 1.3 15.1" transform="translate(612.50 530.30) scale(0.93 0.95)" fill="none" stroke="#0292c0" stroke-width="3.8" stroke-linecap="round"/>
<path d="M15.2 2 C12 0.3 6 0.8 3.1 3.4 C0.8 5.5 0.5 9 3 9.7 C6 10.3 11 7 15.6 7.3 C18 7.8 17.5 12 14 15.5 C10 18.8 3.5 18.5 1.3 15.1" transform="translate(564.80 588.10) scale(0.93 0.95)" fill="none" stroke="#0292c0" stroke-width="3.8" stroke-linecap="round"/>
<path d="M15.2 2 C12 0.3 6 0.8 3.1 3.4 C0.8 5.5 0.5 9 3 9.7 C6 10.3 11 7 15.6 7.3 C18 7.8 17.5 12 14 15.5 C10 18.8 3.5 18.5 1.3 15.1" transform="translate(143.40 571.30) scale(0.93 0.95)" fill="none" stroke="#0292c0" stroke-width="3.8" stroke-linecap="round"/>
<path d="M15.2 2 C12 0.3 6 0.8 3.1 3.4 C0.8 5.5 0.5 9 3 9.7 C6 10.3 11 7 15.6 7.3 C18 7.8 17.5 12 14 15.5 C10 18.8 3.5 18.5 1.3 15.1" transform="translate(848.30 618.40) scale(0.93 0.95)" fill="none" stroke="#0292c0" stroke-width="3.8" stroke-linecap="round"/>
<path d="M15.2 2 C12 0.3 6 0.8 3.1 3.4 C0.8 5.5 0.5 9 3 9.7 C6 10.3 11 7 15.6 7.3 C18 7.8 17.5 12 14 15.5 C10 18.8 3.5 18.5 1.3 15.1" transform="translate(652.90 668.10) scale(0.93 0.95)" fill="none" stroke="#0292c0" stroke-width="3.8" stroke-linecap="round"/>
<path d="M15.2 2 C12 0.3 6 0.8 3.1 3.4 C0.8 5.5 0.5 9 3 9.7 C6 10.3 11 7 15.6 7.3 C18 7.8 17.5 12 14 15.5 C10 18.8 3.5 18.5 1.3 15.1" transform="translate(368.50 774.30) scale(0.93 0.95)" fill="none" stroke="#0292c0" stroke-width="3.8" stroke-linecap="round"/>
<path d="M15.2 2 C12 0.3 6 0.8 3.1 3.4 C0.8 5.5 0.5 9 3 9.7 C6 10.3 11 7 15.6 7.3 C18 7.8 17.5 12 14 15.5 C10 18.8 3.5 18.5 1.3 15.1" transform="translate(511.90 756.60) scale(0.93 0.95)" fill="none" stroke="#0292c0" stroke-width="3.8" stroke-linecap="round"/>
<path d="M15.2 2 C12 0.3 6 0.8 3.1 3.4 C0.8 5.5 0.5 9 3 9.7 C6 10.3 11 7 15.6 7.3 C18 7.8 17.5 12 14 15.5 C10 18.8 3.5 18.5 1.3 15.1" transform="translate(839.40 774.60) scale(0.93 0.95)" fill="none" stroke="#0292c0" stroke-width="3.8" stroke-linecap="round"/>
<path d="M15.2 2 C12 0.3 6 0.8 3.1 3.4 C0.8 5.5 0.5 9 3 9.7 C6 10.3 11 7 15.6 7.3 C18 7.8 17.5 12 14 15.5 C10 18.8 3.5 18.5 1.3 15.1" transform="translate(838.20 829.30) scale(0.93 0.95)" fill="none" stroke="#0292c0" stroke-width="3.8" stroke-linecap="round"/>
<ellipse cx="384.8" cy="263.1" rx="6.2" ry="8.3" transform="rotate(32 384.8 263.1)" fill="none" stroke="#0292c0" stroke-width="3.6"/>
<ellipse cx="364.6" cy="441.7" rx="6.2" ry="8.3" transform="rotate(32 364.6 441.7)" fill="none" stroke="#0292c0" stroke-width="3.6"/>
<ellipse cx="1070.5" cy="469.3" rx="6.2" ry="8.3" transform="rotate(32 1070.5 469.3)" fill="none" stroke="#0292c0" stroke-width="3.6"/>
<ellipse cx="1005.4" cy="642.6" rx="6.2" ry="8.3" transform="rotate(32 1005.4 642.6)" fill="none" stroke="#0292c0" stroke-width="3.6"/>
<path d="M757.9 183.6 L763.6 177.6 L763.3 201.3" fill="none" stroke="#000" stroke-width="3.3" stroke-linecap="round" stroke-linejoin="round"/>
<text x="613.00" y="55.7" textLength="161.00" lengthAdjust="spacingAndGlyphs" fill="#0292c0" stroke="#0292c0">Investment</text>
<text x="630.00" y="89.8" textLength="127.00" lengthAdjust="spacingAndGlyphs" fill="#0292c0" stroke="#0292c0">in Terroir</text>
<text x="607.00" y="123.2" textLength="174.00" lengthAdjust="spacingAndGlyphs" fill="#0292c0" stroke="#0292c0">Wine Making</text>
<text x="930.00" y="68.6" textLength="110.00" lengthAdjust="spacingAndGlyphs" fill="#000" stroke="#000">General</text>
<text x="926.00" y="101.8" textLength="116.00" lengthAdjust="spacingAndGlyphs" fill="#000" stroke="#000">Interest</text>
<text x="935.00" y="136.4" textLength="99.00" lengthAdjust="spacingAndGlyphs" fill="#000" stroke="#000">in Wine</text>
<text x="929.00" y="168.6" textLength="113.00" lengthAdjust="spacingAndGlyphs" fill="#000" stroke="#000">Drinking</text>
<text x="423.00" y="204.8" textLength="169.00" lengthAdjust="spacingAndGlyphs" fill="#000" stroke="#000">Strength of</text>
<text x="401.00" y="238.4" textLength="213.00" lengthAdjust="spacingAndGlyphs" fill="#000" stroke="#000">Belief in Terroir</text>
<text class="big" x="621.80" y="200.7" textLength="42.80" lengthAdjust="spacingAndGlyphs" fill="#000" stroke="#000">R2</text>
<text class="big" x="734.10" y="202.2" textLength="21.10" lengthAdjust="spacingAndGlyphs" fill="#000" stroke="#000">R</text>
<text x="807.70" y="209.9" textLength="168.40" lengthAdjust="spacingAndGlyphs" fill="#000" stroke="#000">Strength of</text>
<text x="786.00" y="243.6" textLength="211.30" lengthAdjust="spacingAndGlyphs" fill="#000" stroke="#000">Terroir System</text>
<text x="1126.00" y="253.1" textLength="150.00" lengthAdjust="spacingAndGlyphs" fill="#000" stroke="#000">Number of</text>
<text x="1155.00" y="286.6" textLength="91.00" lengthAdjust="spacingAndGlyphs" fill="#000" stroke="#000">Novice</text>
<text x="1106.00" y="321.2" textLength="190.00" lengthAdjust="spacingAndGlyphs" fill="#000" stroke="#000">Wine Drinkers</text>
<text x="640.00" y="312.0" textLength="93.00" lengthAdjust="spacingAndGlyphs" fill="#000" stroke="#000">Terroir</text>
<text x="627.00" y="346.0" textLength="119.00" lengthAdjust="spacingAndGlyphs" fill="#000" stroke="#000">Success</text>
<text class="big" x="973.20" y="311.2" textLength="46.20" lengthAdjust="spacingAndGlyphs" fill="#000" stroke="#000">B5</text>
<text x="320.00" y="358.6" textLength="169.00" lengthAdjust="spacingAndGlyphs" fill="#000" stroke="#000">Rejection of</text>
<text x="360.00" y="390.4" textLength="91.00" lengthAdjust="spacingAndGlyphs" fill="#000" stroke="#000">Terroir</text>
<text x="847.00" y="380.3" textLength="265.00" lengthAdjust="spacingAndGlyphs" fill="#000" stroke="#000">New Opportunities</text>
<text x="872.00" y="413.8" textLength="217.00" lengthAdjust="spacingAndGlyphs" fill="#000" stroke="#000">for Terroir Wine</text>
<text x="84.00" y="439.1" textLength="199.00" lengthAdjust="spacingAndGlyphs" fill="#000" stroke="#000">Market Desire</text>
<text x="112.20" y="472.8" textLength="142.90" lengthAdjust="spacingAndGlyphs" fill="#000" stroke="#000">for Terroir</text>
<text x="152.00" y="506.6" textLength="63.00" lengthAdjust="spacingAndGlyphs" fill="#000" stroke="#000">Wine</text>
<text x="1132.00" y="454.2" textLength="199.00" lengthAdjust="spacingAndGlyphs" fill="#000" stroke="#000">Market Desire</text>
<text x="1142.00" y="488.3" textLength="180.00" lengthAdjust="spacingAndGlyphs" fill="#000" stroke="#000">for Universal</text>
<text x="1199.00" y="522.0" textLength="65.00" lengthAdjust="spacingAndGlyphs" fill="#000" stroke="#000">Wine</text>
<text x="279.00" y="510.6" textLength="265.00" lengthAdjust="spacingAndGlyphs" fill="#000" stroke="#000">New Opportunities</text>
<text x="287.00" y="543.8" textLength="252.00" lengthAdjust="spacingAndGlyphs" fill="#000" stroke="#000">for Universal Wine</text>
<text x="909.00" y="549.7" textLength="169.00" lengthAdjust="spacingAndGlyphs" fill="#000" stroke="#000">Rejection of</text>
<text x="903.00" y="583.5" textLength="181.00" lengthAdjust="spacingAndGlyphs" fill="#000" stroke="#000">Universalism</text>
<text x="632.00" y="586.8" textLength="130.00" lengthAdjust="spacingAndGlyphs" fill="#000" stroke="#000">Universal</text>
<text x="637.70" y="620.2" textLength="118.90" lengthAdjust="spacingAndGlyphs" fill="#000" stroke="#000">Success</text>
<text class="big" x="365.20" y="615.0" textLength="48.20" lengthAdjust="spacingAndGlyphs" fill="#000" stroke="#000">B6</text>
<text x="180.00" y="670.8" textLength="149.00" lengthAdjust="spacingAndGlyphs" fill="#000" stroke="#000">Number of</text>
<text x="152.00" y="704.7" textLength="206.00" lengthAdjust="spacingAndGlyphs" fill="#000" stroke="#000">Knowledgeable</text>
<text x="160.00" y="737.8" textLength="190.00" lengthAdjust="spacingAndGlyphs" fill="#000" stroke="#000">Wine Drinkers</text>
<text x="415.00" y="681.3" textLength="175.00" lengthAdjust="spacingAndGlyphs" fill="#000" stroke="#000">Capacity for</text>
<text x="412.00" y="714.4" textLength="181.00" lengthAdjust="spacingAndGlyphs" fill="#000" stroke="#000">Universalism</text>
<text class="big" x="610.80" y="728.6" textLength="43.80" lengthAdjust="spacingAndGlyphs" fill="#000" stroke="#000">R3</text>
<text class="big" x="722.20" y="727.4" textLength="44.20" lengthAdjust="spacingAndGlyphs" fill="#000" stroke="#000">R4</text>
<text x="834.00" y="688.5" textLength="167.00" lengthAdjust="spacingAndGlyphs" fill="#000" stroke="#000">Strength of</text>
<text x="780.00" y="722.1" textLength="275.00" lengthAdjust="spacingAndGlyphs" fill="#000" stroke="#000">Universalist Beliefs</text>
<text x="620.00" y="798.1" textLength="161.00" lengthAdjust="spacingAndGlyphs" fill="#000" stroke="#000">Investment</text>
<text x="620.00" y="831.8" textLength="164.30" lengthAdjust="spacingAndGlyphs" fill="#000" stroke="#000">in Universal</text>
<text x="615.00" y="866.6" textLength="173.00" lengthAdjust="spacingAndGlyphs" fill="#000" stroke="#000">Wine Making</text>
</svg></body></html>
